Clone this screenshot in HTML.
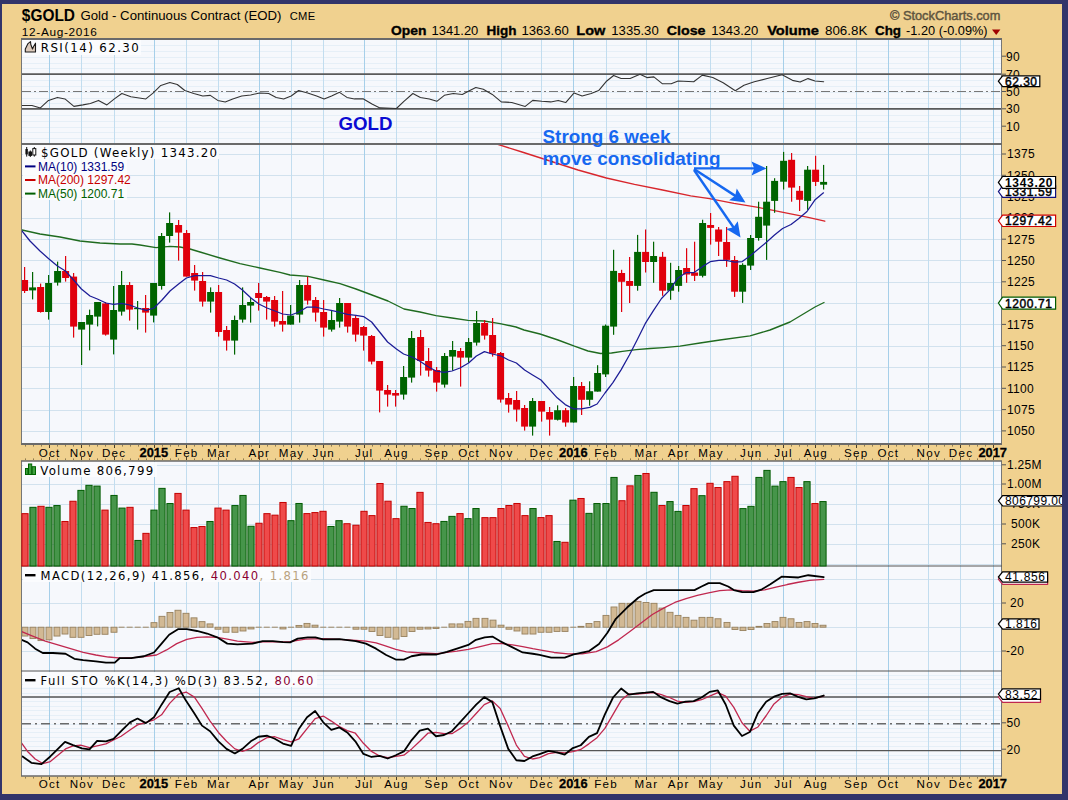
<!DOCTYPE html>
<html lang="en"><head><meta charset="utf-8"><title>$GOLD Weekly - StockCharts</title>
<style>html,body{margin:0;padding:0;background:#32346a;}svg{display:block;}</style></head>
<body>
<svg width="1068" height="800" viewBox="0 0 1068 800">
<defs><clipPath id="cp"><rect x="22" y="39" width="979" height="737"/></clipPath><clipPath id="tan"><rect x="2" y="4" width="1060" height="790"/></clipPath></defs>
<rect x="0" y="0" width="1068" height="800" fill="#32346a" />
<rect x="2" y="4" width="1060" height="790" fill="#f0d18f" />
<rect x="22" y="39" width="979" height="105" fill="#f6f8fc" />
<line x1="22" y1="45.5" x2="1001" y2="45.5" stroke="#e6eff7" stroke-width="1" />
<line x1="22" y1="51.5" x2="1001" y2="51.5" stroke="#e6eff7" stroke-width="1" />
<line x1="22" y1="57.5" x2="1001" y2="57.5" stroke="#e6eff7" stroke-width="1" />
<line x1="22" y1="63.5" x2="1001" y2="63.5" stroke="#e6eff7" stroke-width="1" />
<line x1="22" y1="68.5" x2="1001" y2="68.5" stroke="#e6eff7" stroke-width="1" />
<line x1="22" y1="74.5" x2="1001" y2="74.5" stroke="#e6eff7" stroke-width="1" />
<line x1="22" y1="80.5" x2="1001" y2="80.5" stroke="#e6eff7" stroke-width="1" />
<line x1="22" y1="86.5" x2="1001" y2="86.5" stroke="#e6eff7" stroke-width="1" />
<line x1="22" y1="92.5" x2="1001" y2="92.5" stroke="#e6eff7" stroke-width="1" />
<line x1="22" y1="98.5" x2="1001" y2="98.5" stroke="#e6eff7" stroke-width="1" />
<line x1="22" y1="103.5" x2="1001" y2="103.5" stroke="#e6eff7" stroke-width="1" />
<line x1="22" y1="109.5" x2="1001" y2="109.5" stroke="#e6eff7" stroke-width="1" />
<line x1="22" y1="115.5" x2="1001" y2="115.5" stroke="#e6eff7" stroke-width="1" />
<line x1="22" y1="121.5" x2="1001" y2="121.5" stroke="#e6eff7" stroke-width="1" />
<line x1="22" y1="127.5" x2="1001" y2="127.5" stroke="#e6eff7" stroke-width="1" />
<line x1="22" y1="132.5" x2="1001" y2="132.5" stroke="#e6eff7" stroke-width="1" />
<line x1="22" y1="138.5" x2="1001" y2="138.5" stroke="#e6eff7" stroke-width="1" />
<line x1="49.5" y1="39" x2="49.5" y2="144" stroke="#a6cfe9" stroke-width="1" />
<line x1="81.5" y1="39" x2="81.5" y2="144" stroke="#c2ddef" stroke-width="1" />
<line x1="114.5" y1="39" x2="114.5" y2="144" stroke="#c2ddef" stroke-width="1" />
<line x1="154.5" y1="39" x2="154.5" y2="144" stroke="#a6cfe9" stroke-width="1" />
<line x1="186.5" y1="39" x2="186.5" y2="144" stroke="#c2ddef" stroke-width="1" />
<line x1="218.5" y1="39" x2="218.5" y2="144" stroke="#c2ddef" stroke-width="1" />
<line x1="259.5" y1="39" x2="259.5" y2="144" stroke="#a6cfe9" stroke-width="1" />
<line x1="291.5" y1="39" x2="291.5" y2="144" stroke="#c2ddef" stroke-width="1" />
<line x1="323.5" y1="39" x2="323.5" y2="144" stroke="#c2ddef" stroke-width="1" />
<line x1="364.5" y1="39" x2="364.5" y2="144" stroke="#a6cfe9" stroke-width="1" />
<line x1="396.5" y1="39" x2="396.5" y2="144" stroke="#c2ddef" stroke-width="1" />
<line x1="436.5" y1="39" x2="436.5" y2="144" stroke="#c2ddef" stroke-width="1" />
<line x1="468.5" y1="39" x2="468.5" y2="144" stroke="#a6cfe9" stroke-width="1" />
<line x1="501.5" y1="39" x2="501.5" y2="144" stroke="#c2ddef" stroke-width="1" />
<line x1="541.5" y1="39" x2="541.5" y2="144" stroke="#c2ddef" stroke-width="1" />
<line x1="573.5" y1="39" x2="573.5" y2="144" stroke="#a6cfe9" stroke-width="1" />
<line x1="606.5" y1="39" x2="606.5" y2="144" stroke="#c2ddef" stroke-width="1" />
<line x1="646.5" y1="39" x2="646.5" y2="144" stroke="#c2ddef" stroke-width="1" />
<line x1="678.5" y1="39" x2="678.5" y2="144" stroke="#a6cfe9" stroke-width="1" />
<line x1="710.5" y1="39" x2="710.5" y2="144" stroke="#c2ddef" stroke-width="1" />
<line x1="751.5" y1="39" x2="751.5" y2="144" stroke="#c2ddef" stroke-width="1" />
<line x1="783.5" y1="39" x2="783.5" y2="144" stroke="#a6cfe9" stroke-width="1" />
<line x1="815.5" y1="39" x2="815.5" y2="144" stroke="#c2ddef" stroke-width="1" />
<line x1="856.5" y1="39" x2="856.5" y2="144" stroke="#c2ddef" stroke-width="1" />
<line x1="888.5" y1="39" x2="888.5" y2="144" stroke="#a6cfe9" stroke-width="1" />
<line x1="928.5" y1="39" x2="928.5" y2="144" stroke="#c2ddef" stroke-width="1" />
<line x1="960.5" y1="39" x2="960.5" y2="144" stroke="#c2ddef" stroke-width="1" />
<line x1="993.5" y1="39" x2="993.5" y2="144" stroke="#a6cfe9" stroke-width="1" />
<rect x="22" y="144" width="979" height="300" fill="#f6f8fc" />
<line x1="22" y1="154.5" x2="1001" y2="154.5" stroke="#d2e2ee" stroke-width="1" />
<line x1="22" y1="175.5" x2="1001" y2="175.5" stroke="#d2e2ee" stroke-width="1" />
<line x1="22" y1="197.5" x2="1001" y2="197.5" stroke="#d2e2ee" stroke-width="1" />
<line x1="22" y1="218.5" x2="1001" y2="218.5" stroke="#d2e2ee" stroke-width="1" />
<line x1="22" y1="239.5" x2="1001" y2="239.5" stroke="#d2e2ee" stroke-width="1" />
<line x1="22" y1="260.5" x2="1001" y2="260.5" stroke="#d2e2ee" stroke-width="1" />
<line x1="22" y1="282.5" x2="1001" y2="282.5" stroke="#d2e2ee" stroke-width="1" />
<line x1="22" y1="303.5" x2="1001" y2="303.5" stroke="#d2e2ee" stroke-width="1" />
<line x1="22" y1="324.5" x2="1001" y2="324.5" stroke="#d2e2ee" stroke-width="1" />
<line x1="22" y1="346.5" x2="1001" y2="346.5" stroke="#d2e2ee" stroke-width="1" />
<line x1="22" y1="367.5" x2="1001" y2="367.5" stroke="#d2e2ee" stroke-width="1" />
<line x1="22" y1="388.5" x2="1001" y2="388.5" stroke="#d2e2ee" stroke-width="1" />
<line x1="22" y1="410.5" x2="1001" y2="410.5" stroke="#d2e2ee" stroke-width="1" />
<line x1="22" y1="431.5" x2="1001" y2="431.5" stroke="#d2e2ee" stroke-width="1" />
<line x1="49.5" y1="144" x2="49.5" y2="444" stroke="#a6cfe9" stroke-width="1" />
<line x1="81.5" y1="144" x2="81.5" y2="444" stroke="#c2ddef" stroke-width="1" />
<line x1="114.5" y1="144" x2="114.5" y2="444" stroke="#c2ddef" stroke-width="1" />
<line x1="154.5" y1="144" x2="154.5" y2="444" stroke="#a6cfe9" stroke-width="1" />
<line x1="186.5" y1="144" x2="186.5" y2="444" stroke="#c2ddef" stroke-width="1" />
<line x1="218.5" y1="144" x2="218.5" y2="444" stroke="#c2ddef" stroke-width="1" />
<line x1="259.5" y1="144" x2="259.5" y2="444" stroke="#a6cfe9" stroke-width="1" />
<line x1="291.5" y1="144" x2="291.5" y2="444" stroke="#c2ddef" stroke-width="1" />
<line x1="323.5" y1="144" x2="323.5" y2="444" stroke="#c2ddef" stroke-width="1" />
<line x1="364.5" y1="144" x2="364.5" y2="444" stroke="#a6cfe9" stroke-width="1" />
<line x1="396.5" y1="144" x2="396.5" y2="444" stroke="#c2ddef" stroke-width="1" />
<line x1="436.5" y1="144" x2="436.5" y2="444" stroke="#c2ddef" stroke-width="1" />
<line x1="468.5" y1="144" x2="468.5" y2="444" stroke="#a6cfe9" stroke-width="1" />
<line x1="501.5" y1="144" x2="501.5" y2="444" stroke="#c2ddef" stroke-width="1" />
<line x1="541.5" y1="144" x2="541.5" y2="444" stroke="#c2ddef" stroke-width="1" />
<line x1="573.5" y1="144" x2="573.5" y2="444" stroke="#a6cfe9" stroke-width="1" />
<line x1="606.5" y1="144" x2="606.5" y2="444" stroke="#c2ddef" stroke-width="1" />
<line x1="646.5" y1="144" x2="646.5" y2="444" stroke="#c2ddef" stroke-width="1" />
<line x1="678.5" y1="144" x2="678.5" y2="444" stroke="#a6cfe9" stroke-width="1" />
<line x1="710.5" y1="144" x2="710.5" y2="444" stroke="#c2ddef" stroke-width="1" />
<line x1="751.5" y1="144" x2="751.5" y2="444" stroke="#c2ddef" stroke-width="1" />
<line x1="783.5" y1="144" x2="783.5" y2="444" stroke="#a6cfe9" stroke-width="1" />
<line x1="815.5" y1="144" x2="815.5" y2="444" stroke="#c2ddef" stroke-width="1" />
<line x1="856.5" y1="144" x2="856.5" y2="444" stroke="#c2ddef" stroke-width="1" />
<line x1="888.5" y1="144" x2="888.5" y2="444" stroke="#a6cfe9" stroke-width="1" />
<line x1="928.5" y1="144" x2="928.5" y2="444" stroke="#c2ddef" stroke-width="1" />
<line x1="960.5" y1="144" x2="960.5" y2="444" stroke="#c2ddef" stroke-width="1" />
<line x1="993.5" y1="144" x2="993.5" y2="444" stroke="#a6cfe9" stroke-width="1" />
<rect x="22" y="461" width="979" height="105" fill="#f6f8fc" />
<line x1="22" y1="564.5" x2="1001" y2="564.5" stroke="#d2e2ee" stroke-width="1" />
<line x1="22" y1="544.5" x2="1001" y2="544.5" stroke="#d2e2ee" stroke-width="1" />
<line x1="22" y1="524.5" x2="1001" y2="524.5" stroke="#d2e2ee" stroke-width="1" />
<line x1="22" y1="504.5" x2="1001" y2="504.5" stroke="#d2e2ee" stroke-width="1" />
<line x1="22" y1="484.5" x2="1001" y2="484.5" stroke="#d2e2ee" stroke-width="1" />
<line x1="22" y1="465.5" x2="1001" y2="465.5" stroke="#d2e2ee" stroke-width="1" />
<line x1="49.5" y1="461" x2="49.5" y2="566" stroke="#a6cfe9" stroke-width="1" />
<line x1="81.5" y1="461" x2="81.5" y2="566" stroke="#c2ddef" stroke-width="1" />
<line x1="114.5" y1="461" x2="114.5" y2="566" stroke="#c2ddef" stroke-width="1" />
<line x1="154.5" y1="461" x2="154.5" y2="566" stroke="#a6cfe9" stroke-width="1" />
<line x1="186.5" y1="461" x2="186.5" y2="566" stroke="#c2ddef" stroke-width="1" />
<line x1="218.5" y1="461" x2="218.5" y2="566" stroke="#c2ddef" stroke-width="1" />
<line x1="259.5" y1="461" x2="259.5" y2="566" stroke="#a6cfe9" stroke-width="1" />
<line x1="291.5" y1="461" x2="291.5" y2="566" stroke="#c2ddef" stroke-width="1" />
<line x1="323.5" y1="461" x2="323.5" y2="566" stroke="#c2ddef" stroke-width="1" />
<line x1="364.5" y1="461" x2="364.5" y2="566" stroke="#a6cfe9" stroke-width="1" />
<line x1="396.5" y1="461" x2="396.5" y2="566" stroke="#c2ddef" stroke-width="1" />
<line x1="436.5" y1="461" x2="436.5" y2="566" stroke="#c2ddef" stroke-width="1" />
<line x1="468.5" y1="461" x2="468.5" y2="566" stroke="#a6cfe9" stroke-width="1" />
<line x1="501.5" y1="461" x2="501.5" y2="566" stroke="#c2ddef" stroke-width="1" />
<line x1="541.5" y1="461" x2="541.5" y2="566" stroke="#c2ddef" stroke-width="1" />
<line x1="573.5" y1="461" x2="573.5" y2="566" stroke="#a6cfe9" stroke-width="1" />
<line x1="606.5" y1="461" x2="606.5" y2="566" stroke="#c2ddef" stroke-width="1" />
<line x1="646.5" y1="461" x2="646.5" y2="566" stroke="#c2ddef" stroke-width="1" />
<line x1="678.5" y1="461" x2="678.5" y2="566" stroke="#a6cfe9" stroke-width="1" />
<line x1="710.5" y1="461" x2="710.5" y2="566" stroke="#c2ddef" stroke-width="1" />
<line x1="751.5" y1="461" x2="751.5" y2="566" stroke="#c2ddef" stroke-width="1" />
<line x1="783.5" y1="461" x2="783.5" y2="566" stroke="#a6cfe9" stroke-width="1" />
<line x1="815.5" y1="461" x2="815.5" y2="566" stroke="#c2ddef" stroke-width="1" />
<line x1="856.5" y1="461" x2="856.5" y2="566" stroke="#c2ddef" stroke-width="1" />
<line x1="888.5" y1="461" x2="888.5" y2="566" stroke="#a6cfe9" stroke-width="1" />
<line x1="928.5" y1="461" x2="928.5" y2="566" stroke="#c2ddef" stroke-width="1" />
<line x1="960.5" y1="461" x2="960.5" y2="566" stroke="#c2ddef" stroke-width="1" />
<line x1="993.5" y1="461" x2="993.5" y2="566" stroke="#a6cfe9" stroke-width="1" />
<rect x="22" y="566" width="979" height="105" fill="#f6f8fc" />
<line x1="22" y1="579.5" x2="1001" y2="579.5" stroke="#d2e2ee" stroke-width="1" />
<line x1="22" y1="603.5" x2="1001" y2="603.5" stroke="#d2e2ee" stroke-width="1" />
<line x1="22" y1="627.5" x2="1001" y2="627.5" stroke="#d2e2ee" stroke-width="1" />
<line x1="22" y1="651.5" x2="1001" y2="651.5" stroke="#d2e2ee" stroke-width="1" />
<line x1="49.5" y1="566" x2="49.5" y2="671" stroke="#a6cfe9" stroke-width="1" />
<line x1="81.5" y1="566" x2="81.5" y2="671" stroke="#c2ddef" stroke-width="1" />
<line x1="114.5" y1="566" x2="114.5" y2="671" stroke="#c2ddef" stroke-width="1" />
<line x1="154.5" y1="566" x2="154.5" y2="671" stroke="#a6cfe9" stroke-width="1" />
<line x1="186.5" y1="566" x2="186.5" y2="671" stroke="#c2ddef" stroke-width="1" />
<line x1="218.5" y1="566" x2="218.5" y2="671" stroke="#c2ddef" stroke-width="1" />
<line x1="259.5" y1="566" x2="259.5" y2="671" stroke="#a6cfe9" stroke-width="1" />
<line x1="291.5" y1="566" x2="291.5" y2="671" stroke="#c2ddef" stroke-width="1" />
<line x1="323.5" y1="566" x2="323.5" y2="671" stroke="#c2ddef" stroke-width="1" />
<line x1="364.5" y1="566" x2="364.5" y2="671" stroke="#a6cfe9" stroke-width="1" />
<line x1="396.5" y1="566" x2="396.5" y2="671" stroke="#c2ddef" stroke-width="1" />
<line x1="436.5" y1="566" x2="436.5" y2="671" stroke="#c2ddef" stroke-width="1" />
<line x1="468.5" y1="566" x2="468.5" y2="671" stroke="#a6cfe9" stroke-width="1" />
<line x1="501.5" y1="566" x2="501.5" y2="671" stroke="#c2ddef" stroke-width="1" />
<line x1="541.5" y1="566" x2="541.5" y2="671" stroke="#c2ddef" stroke-width="1" />
<line x1="573.5" y1="566" x2="573.5" y2="671" stroke="#a6cfe9" stroke-width="1" />
<line x1="606.5" y1="566" x2="606.5" y2="671" stroke="#c2ddef" stroke-width="1" />
<line x1="646.5" y1="566" x2="646.5" y2="671" stroke="#c2ddef" stroke-width="1" />
<line x1="678.5" y1="566" x2="678.5" y2="671" stroke="#a6cfe9" stroke-width="1" />
<line x1="710.5" y1="566" x2="710.5" y2="671" stroke="#c2ddef" stroke-width="1" />
<line x1="751.5" y1="566" x2="751.5" y2="671" stroke="#c2ddef" stroke-width="1" />
<line x1="783.5" y1="566" x2="783.5" y2="671" stroke="#a6cfe9" stroke-width="1" />
<line x1="815.5" y1="566" x2="815.5" y2="671" stroke="#c2ddef" stroke-width="1" />
<line x1="856.5" y1="566" x2="856.5" y2="671" stroke="#c2ddef" stroke-width="1" />
<line x1="888.5" y1="566" x2="888.5" y2="671" stroke="#a6cfe9" stroke-width="1" />
<line x1="928.5" y1="566" x2="928.5" y2="671" stroke="#c2ddef" stroke-width="1" />
<line x1="960.5" y1="566" x2="960.5" y2="671" stroke="#c2ddef" stroke-width="1" />
<line x1="993.5" y1="566" x2="993.5" y2="671" stroke="#a6cfe9" stroke-width="1" />
<rect x="22" y="671" width="979" height="105" fill="#f6f8fc" />
<line x1="22" y1="768.5" x2="1001" y2="768.5" stroke="#e6eff7" stroke-width="1" />
<line x1="22" y1="763.5" x2="1001" y2="763.5" stroke="#e6eff7" stroke-width="1" />
<line x1="22" y1="759.5" x2="1001" y2="759.5" stroke="#e6eff7" stroke-width="1" />
<line x1="22" y1="755.5" x2="1001" y2="755.5" stroke="#e6eff7" stroke-width="1" />
<line x1="22" y1="750.5" x2="1001" y2="750.5" stroke="#e6eff7" stroke-width="1" />
<line x1="22" y1="746.5" x2="1001" y2="746.5" stroke="#e6eff7" stroke-width="1" />
<line x1="22" y1="741.5" x2="1001" y2="741.5" stroke="#e6eff7" stroke-width="1" />
<line x1="22" y1="737.5" x2="1001" y2="737.5" stroke="#e6eff7" stroke-width="1" />
<line x1="22" y1="732.5" x2="1001" y2="732.5" stroke="#e6eff7" stroke-width="1" />
<line x1="22" y1="728.5" x2="1001" y2="728.5" stroke="#e6eff7" stroke-width="1" />
<line x1="22" y1="724.5" x2="1001" y2="724.5" stroke="#e6eff7" stroke-width="1" />
<line x1="22" y1="719.5" x2="1001" y2="719.5" stroke="#e6eff7" stroke-width="1" />
<line x1="22" y1="715.5" x2="1001" y2="715.5" stroke="#e6eff7" stroke-width="1" />
<line x1="22" y1="710.5" x2="1001" y2="710.5" stroke="#e6eff7" stroke-width="1" />
<line x1="22" y1="706.5" x2="1001" y2="706.5" stroke="#e6eff7" stroke-width="1" />
<line x1="22" y1="701.5" x2="1001" y2="701.5" stroke="#e6eff7" stroke-width="1" />
<line x1="22" y1="697.5" x2="1001" y2="697.5" stroke="#e6eff7" stroke-width="1" />
<line x1="22" y1="693.5" x2="1001" y2="693.5" stroke="#e6eff7" stroke-width="1" />
<line x1="22" y1="688.5" x2="1001" y2="688.5" stroke="#e6eff7" stroke-width="1" />
<line x1="22" y1="684.5" x2="1001" y2="684.5" stroke="#e6eff7" stroke-width="1" />
<line x1="22" y1="679.5" x2="1001" y2="679.5" stroke="#e6eff7" stroke-width="1" />
<line x1="22" y1="675.5" x2="1001" y2="675.5" stroke="#e6eff7" stroke-width="1" />
<line x1="49.5" y1="671" x2="49.5" y2="776" stroke="#a6cfe9" stroke-width="1" />
<line x1="81.5" y1="671" x2="81.5" y2="776" stroke="#c2ddef" stroke-width="1" />
<line x1="114.5" y1="671" x2="114.5" y2="776" stroke="#c2ddef" stroke-width="1" />
<line x1="154.5" y1="671" x2="154.5" y2="776" stroke="#a6cfe9" stroke-width="1" />
<line x1="186.5" y1="671" x2="186.5" y2="776" stroke="#c2ddef" stroke-width="1" />
<line x1="218.5" y1="671" x2="218.5" y2="776" stroke="#c2ddef" stroke-width="1" />
<line x1="259.5" y1="671" x2="259.5" y2="776" stroke="#a6cfe9" stroke-width="1" />
<line x1="291.5" y1="671" x2="291.5" y2="776" stroke="#c2ddef" stroke-width="1" />
<line x1="323.5" y1="671" x2="323.5" y2="776" stroke="#c2ddef" stroke-width="1" />
<line x1="364.5" y1="671" x2="364.5" y2="776" stroke="#a6cfe9" stroke-width="1" />
<line x1="396.5" y1="671" x2="396.5" y2="776" stroke="#c2ddef" stroke-width="1" />
<line x1="436.5" y1="671" x2="436.5" y2="776" stroke="#c2ddef" stroke-width="1" />
<line x1="468.5" y1="671" x2="468.5" y2="776" stroke="#a6cfe9" stroke-width="1" />
<line x1="501.5" y1="671" x2="501.5" y2="776" stroke="#c2ddef" stroke-width="1" />
<line x1="541.5" y1="671" x2="541.5" y2="776" stroke="#c2ddef" stroke-width="1" />
<line x1="573.5" y1="671" x2="573.5" y2="776" stroke="#a6cfe9" stroke-width="1" />
<line x1="606.5" y1="671" x2="606.5" y2="776" stroke="#c2ddef" stroke-width="1" />
<line x1="646.5" y1="671" x2="646.5" y2="776" stroke="#c2ddef" stroke-width="1" />
<line x1="678.5" y1="671" x2="678.5" y2="776" stroke="#a6cfe9" stroke-width="1" />
<line x1="710.5" y1="671" x2="710.5" y2="776" stroke="#c2ddef" stroke-width="1" />
<line x1="751.5" y1="671" x2="751.5" y2="776" stroke="#c2ddef" stroke-width="1" />
<line x1="783.5" y1="671" x2="783.5" y2="776" stroke="#a6cfe9" stroke-width="1" />
<line x1="815.5" y1="671" x2="815.5" y2="776" stroke="#c2ddef" stroke-width="1" />
<line x1="856.5" y1="671" x2="856.5" y2="776" stroke="#c2ddef" stroke-width="1" />
<line x1="888.5" y1="671" x2="888.5" y2="776" stroke="#a6cfe9" stroke-width="1" />
<line x1="928.5" y1="671" x2="928.5" y2="776" stroke="#c2ddef" stroke-width="1" />
<line x1="960.5" y1="671" x2="960.5" y2="776" stroke="#c2ddef" stroke-width="1" />
<line x1="993.5" y1="671" x2="993.5" y2="776" stroke="#a6cfe9" stroke-width="1" />
<line x1="22" y1="74.2" x2="1001" y2="74.2" stroke="#5a5a5a" stroke-width="1.7" />
<line x1="22" y1="108.8" x2="1001" y2="108.8" stroke="#5a5a5a" stroke-width="1.7" />
<line x1="22" y1="91.5" x2="1001" y2="91.5" stroke="#777" stroke-width="1" stroke-dasharray="9,3,2,3"/>
<polyline clip-path="url(#cp)" fill="none" stroke="#333" stroke-width="1.1" stroke-linejoin="round" stroke-linecap="round"  points="20,105.51 31.99,105.51 40.37,107.91 48.46,100.42 57.45,97.42 64.94,98.92 73.93,106.41 82.92,104.91 90.41,103.42 98.5,100.42 106.89,104.91 114.38,98.92 121.87,93.53 130.86,96.82 145.84,98.92 153.33,92.93 160.82,85.44 169.81,82.44 177.3,84.54 184.79,90.53 193.78,93.53 202.77,95.93 210.26,95.33 217.75,100.42 225.24,101.92 232.73,98.92 241.72,95.93 250.71,95.03 259.7,92.93 268.69,93.53 276.18,97.42 283.67,98.92 291.16,95.93 298.65,90.53 307.64,92.93 316.63,95.93 324.12,98.92 331.61,95.93 332.12,95.78 339.48,92.33 346.97,97.42 354.46,98.92 363.45,98.92 372.43,104.31 379.93,107.91 396.4,108.51 403.9,101.32 412.88,93.53 420.37,97.42 429.36,98.92 436.85,101.32 444.34,95.33 453.33,93.53 462.32,94.43 469.81,90.53 475.81,87.54 483.3,89.33 492.28,94.43 501.27,101.92 511.76,102.52 525.24,106.41 532.73,100.42 541.72,101.32 550.71,101.92 558.2,100.42 565.69,102.52 574.08,92.93 582.17,95.93 591.16,93.53 598.65,90.53 606.14,81.54 613.63,75.55 621.12,78.55 630.11,78.55 640,74.35 646.93,77.58 653.86,76.89 662.52,83.82 671.19,83.82 678.12,81.05 693.71,81.74 702.37,75.15 712.77,77.58 723.16,82.78 735.29,90.75 743.95,85.2 754.35,81.74 768.21,78.27 782.07,74.81 792.46,80.35 800.08,82.08 808.05,78.62 814.98,81.05 823.65,81.74"/>
<polyline clip-path="url(#cp)" fill="none" stroke="#1f6b1f" stroke-width="1.35" stroke-linejoin="round" stroke-linecap="round"  points="22,230 40,234 60,237 80,241 100,243 120,244 132,244 140,245 156,247.6 170,246.4 180,247 190,249 200,252 220,258 240,263.6 260,268 280,272.4 290,275 308,276.4 324,280 340,283.6 356,289 372,295 388,301 404,309 420,312 436,315.6 452,318 468,320.4 484,321 500,323.6 516,327 524,330 540,334 558,340 574.4,346.2 588,351 600.5,353.5 611.5,353 622.5,351.3 636.3,349.6 650,348.5 663.8,347.6 680,346.2 700,343 720,340 750,335.9 770,330 790,322 805,313 815,307 824,302.5"/>
<polyline clip-path="url(#cp)" fill="none" stroke="#d8262c" stroke-width="1.35" stroke-linejoin="round" stroke-linecap="round"  points="495.4,143.7 522,152 550,161 578,170 606.4,178 634.5,184.4 662.6,190 690.7,195.9 709.5,198.7 733.9,203.4 758.2,207.4 774.5,210.7 790.7,213.9 807,217.2 824.8,221.2"/>
<rect x="24" y="267" width="1.2" height="26" fill="#e0000c" />
<rect x="21.1" y="280" width="7" height="11" fill="#e0000c" />
<rect x="32" y="272" width="1.2" height="27.4" fill="#006400" />
<rect x="29.1" y="287.4" width="7" height="3" fill="#006400" />
<rect x="40" y="283.6" width="1.2" height="29" fill="#e0000c" />
<rect x="37.1" y="287" width="7" height="25" fill="#e0000c" />
<rect x="48" y="275" width="1.2" height="44.6" fill="#006400" />
<rect x="45.1" y="283" width="7" height="29" fill="#006400" />
<rect x="57" y="261.6" width="1.2" height="24" fill="#006400" />
<rect x="54.1" y="271" width="7" height="11.6" fill="#006400" />
<rect x="65" y="256" width="1.2" height="25.6" fill="#e0000c" />
<rect x="62.1" y="271" width="7" height="7" fill="#e0000c" />
<rect x="73" y="273" width="1.2" height="64.6" fill="#e0000c" />
<rect x="70.1" y="276.6" width="7" height="50" fill="#e0000c" />
<rect x="81" y="322" width="1.2" height="43" fill="#006400" />
<rect x="78.1" y="322" width="7" height="7.6" fill="#006400" />
<rect x="89" y="309.6" width="1.2" height="40.8" fill="#006400" />
<rect x="86.1" y="315" width="7" height="9.6" fill="#006400" />
<rect x="97" y="302" width="1.2" height="24.4" fill="#006400" />
<rect x="94.1" y="302" width="7" height="14.6" fill="#006400" />
<rect x="105" y="302" width="1.2" height="33.6" fill="#e0000c" />
<rect x="102.1" y="303.4" width="7" height="31.2" fill="#e0000c" />
<rect x="113" y="286" width="1.2" height="68.4" fill="#006400" />
<rect x="110.1" y="310" width="7" height="29.6" fill="#006400" />
<rect x="121" y="271" width="1.2" height="44.6" fill="#006400" />
<rect x="118.1" y="285" width="7" height="26.6" fill="#006400" />
<rect x="129" y="282" width="1.2" height="38.6" fill="#e0000c" />
<rect x="126.1" y="285" width="7" height="24.6" fill="#e0000c" />
<rect x="137" y="301" width="1.2" height="28.6" fill="#006400" />
<rect x="134.1" y="308" width="7" height="1.2" fill="#006400" />
<rect x="145" y="295" width="1.2" height="37.6" fill="#e0000c" />
<rect x="142.1" y="308" width="7" height="4.6" fill="#e0000c" />
<rect x="153" y="283" width="1.2" height="39.4" fill="#006400" />
<rect x="150.1" y="283" width="7" height="32.6" fill="#006400" />
<rect x="161" y="233" width="1.2" height="56.6" fill="#006400" />
<rect x="158.1" y="236" width="7" height="50" fill="#006400" />
<rect x="169" y="212.4" width="1.2" height="30.2" fill="#006400" />
<rect x="166.1" y="223" width="7" height="13" fill="#006400" />
<rect x="178" y="220" width="1.2" height="40.6" fill="#e0000c" />
<rect x="175.1" y="225" width="7" height="7.6" fill="#e0000c" />
<rect x="186" y="230" width="1.2" height="46.6" fill="#e0000c" />
<rect x="183.1" y="233" width="7" height="43.6" fill="#e0000c" />
<rect x="194" y="265" width="1.2" height="25.6" fill="#e0000c" />
<rect x="191.1" y="273" width="7" height="7.6" fill="#e0000c" />
<rect x="202" y="272" width="1.2" height="34.6" fill="#e0000c" />
<rect x="199.1" y="281" width="7" height="20.6" fill="#e0000c" />
<rect x="210" y="287.4" width="1.2" height="25.2" fill="#006400" />
<rect x="207.1" y="292" width="7" height="9.6" fill="#006400" />
<rect x="218" y="285" width="1.2" height="51.6" fill="#e0000c" />
<rect x="215.1" y="292" width="7" height="40" fill="#e0000c" />
<rect x="226" y="326" width="1.2" height="24.6" fill="#e0000c" />
<rect x="223.1" y="330" width="7" height="10.6" fill="#e0000c" />
<rect x="234" y="315.6" width="1.2" height="39" fill="#006400" />
<rect x="231.1" y="320" width="7" height="20.6" fill="#006400" />
<rect x="242" y="287.4" width="1.2" height="35.2" fill="#006400" />
<rect x="239.1" y="305" width="7" height="14.6" fill="#006400" />
<rect x="250" y="298" width="1.2" height="24.6" fill="#006400" />
<rect x="247.1" y="302" width="7" height="3.6" fill="#006400" />
<rect x="258" y="283" width="1.2" height="27.6" fill="#e0000c" />
<rect x="255.1" y="293" width="7" height="5" fill="#e0000c" />
<rect x="266" y="296" width="1.2" height="23.6" fill="#e0000c" />
<rect x="263.1" y="297" width="7" height="4.6" fill="#e0000c" />
<rect x="274" y="296" width="1.2" height="30.6" fill="#e0000c" />
<rect x="271.1" y="300" width="7" height="21.6" fill="#e0000c" />
<rect x="282" y="291" width="1.2" height="40.6" fill="#e0000c" />
<rect x="279.1" y="321" width="7" height="3.6" fill="#e0000c" />
<rect x="290" y="305" width="1.2" height="19.6" fill="#006400" />
<rect x="287.1" y="315.6" width="7" height="9" fill="#006400" />
<rect x="299" y="280" width="1.2" height="42.6" fill="#006400" />
<rect x="296.1" y="285" width="7" height="29.6" fill="#006400" />
<rect x="307" y="276.6" width="1.2" height="28" fill="#e0000c" />
<rect x="304.1" y="285" width="7" height="15.6" fill="#e0000c" />
<rect x="315" y="297" width="1.2" height="24.6" fill="#e0000c" />
<rect x="312.1" y="300" width="7" height="12.6" fill="#e0000c" />
<rect x="323" y="300" width="1.2" height="36.6" fill="#e0000c" />
<rect x="320.1" y="312" width="7" height="15.6" fill="#e0000c" />
<rect x="331" y="311" width="1.2" height="20.6" fill="#006400" />
<rect x="328.1" y="320" width="7" height="9.6" fill="#006400" />
<rect x="339" y="298" width="1.2" height="29.6" fill="#006400" />
<rect x="336.1" y="303" width="7" height="18.6" fill="#006400" />
<rect x="347" y="303" width="1.2" height="29.6" fill="#e0000c" />
<rect x="344.1" y="303" width="7" height="23.6" fill="#e0000c" />
<rect x="355" y="316" width="1.2" height="25.6" fill="#e0000c" />
<rect x="352.1" y="318" width="7" height="16.6" fill="#e0000c" />
<rect x="363" y="326" width="1.2" height="24.6" fill="#e0000c" />
<rect x="360.1" y="327" width="7" height="8.6" fill="#e0000c" />
<rect x="371" y="335" width="1.2" height="29.4" fill="#e0000c" />
<rect x="368.1" y="336" width="7" height="25.6" fill="#e0000c" />
<rect x="379" y="361" width="1.2" height="51.4" fill="#e0000c" />
<rect x="376.1" y="361" width="7" height="29.6" fill="#e0000c" />
<rect x="387" y="385" width="1.2" height="21.6" fill="#e0000c" />
<rect x="384.1" y="390" width="7" height="4.6" fill="#e0000c" />
<rect x="395" y="390" width="1.2" height="16.6" fill="#e0000c" />
<rect x="392.1" y="393" width="7" height="2.6" fill="#e0000c" />
<rect x="403" y="366" width="1.2" height="33.6" fill="#006400" />
<rect x="400.1" y="377" width="7" height="17.6" fill="#006400" />
<rect x="411" y="331" width="1.2" height="51.6" fill="#006400" />
<rect x="408.1" y="338" width="7" height="39.6" fill="#006400" />
<rect x="420" y="330" width="1.2" height="45.6" fill="#e0000c" />
<rect x="417.1" y="337" width="7" height="24" fill="#e0000c" />
<rect x="428" y="348" width="1.2" height="28.6" fill="#e0000c" />
<rect x="425.1" y="361" width="7" height="9.6" fill="#e0000c" />
<rect x="436" y="367" width="1.2" height="24.6" fill="#e0000c" />
<rect x="433.1" y="370" width="7" height="12.6" fill="#e0000c" />
<rect x="444" y="353" width="1.2" height="34.6" fill="#006400" />
<rect x="441.1" y="356" width="7" height="28.6" fill="#006400" />
<rect x="452" y="341" width="1.2" height="29.6" fill="#006400" />
<rect x="449.1" y="350" width="7" height="6.6" fill="#006400" />
<rect x="460" y="348" width="1.2" height="38.6" fill="#e0000c" />
<rect x="457.1" y="351" width="7" height="6.6" fill="#e0000c" />
<rect x="468" y="338" width="1.2" height="24.6" fill="#006400" />
<rect x="465.1" y="342" width="7" height="15.6" fill="#006400" />
<rect x="476" y="311" width="1.2" height="34.6" fill="#006400" />
<rect x="473.1" y="323" width="7" height="19.6" fill="#006400" />
<rect x="484" y="320" width="1.2" height="19.6" fill="#e0000c" />
<rect x="481.1" y="323" width="7" height="12.6" fill="#e0000c" />
<rect x="492" y="318" width="1.2" height="38.6" fill="#e0000c" />
<rect x="489.1" y="335" width="7" height="18.6" fill="#e0000c" />
<rect x="500" y="352" width="1.2" height="50.6" fill="#e0000c" />
<rect x="497.1" y="353" width="7" height="46.6" fill="#e0000c" />
<rect x="508" y="393" width="1.2" height="19.6" fill="#e0000c" />
<rect x="505.1" y="398" width="7" height="6.6" fill="#e0000c" />
<rect x="516" y="391" width="1.2" height="30.6" fill="#e0000c" />
<rect x="513.1" y="400" width="7" height="9.6" fill="#e0000c" />
<rect x="524" y="405" width="1.2" height="25.6" fill="#e0000c" />
<rect x="521.1" y="408" width="7" height="18.6" fill="#e0000c" />
<rect x="532" y="398" width="1.2" height="37.6" fill="#006400" />
<rect x="529.1" y="401" width="7" height="25.6" fill="#006400" />
<rect x="541" y="401" width="1.2" height="20.6" fill="#e0000c" />
<rect x="538.1" y="401" width="7" height="10.6" fill="#e0000c" />
<rect x="549" y="407" width="1.2" height="28.6" fill="#e0000c" />
<rect x="546.1" y="412" width="7" height="7.6" fill="#e0000c" />
<rect x="557" y="405.3" width="1.2" height="15.2" fill="#006400" />
<rect x="554.1" y="410.2" width="7" height="9.6" fill="#006400" />
<rect x="565" y="408" width="1.2" height="18.7" fill="#e0000c" />
<rect x="562.1" y="410.2" width="7" height="12.3" fill="#e0000c" />
<rect x="573" y="377" width="1.2" height="45.5" fill="#006400" />
<rect x="570.1" y="386" width="7" height="36.5" fill="#006400" />
<rect x="581" y="382" width="1.2" height="33" fill="#e0000c" />
<rect x="578.1" y="386" width="7" height="13.8" fill="#e0000c" />
<rect x="589" y="381.3" width="1.2" height="24.4" fill="#006400" />
<rect x="586.1" y="391.2" width="7" height="8.6" fill="#006400" />
<rect x="597" y="365.2" width="1.2" height="26.4" fill="#006400" />
<rect x="594.1" y="373" width="7" height="18.6" fill="#006400" />
<rect x="605" y="324.5" width="1.2" height="52.5" fill="#006400" />
<rect x="602.1" y="325.7" width="7" height="48.7" fill="#006400" />
<rect x="613" y="249.8" width="1.2" height="85" fill="#006400" />
<rect x="610.1" y="270.9" width="7" height="55.7" fill="#006400" />
<rect x="621" y="269.8" width="1.2" height="42.2" fill="#e0000c" />
<rect x="618.1" y="273" width="7" height="8.8" fill="#e0000c" />
<rect x="629" y="257" width="1.2" height="46" fill="#e0000c" />
<rect x="626.1" y="281" width="7" height="4.9" fill="#e0000c" />
<rect x="637" y="234.9" width="1.2" height="55.8" fill="#006400" />
<rect x="634.1" y="251.9" width="7" height="34" fill="#006400" />
<rect x="645" y="229.5" width="1.2" height="43" fill="#e0000c" />
<rect x="642.1" y="251.9" width="7" height="10.1" fill="#e0000c" />
<rect x="653" y="241.7" width="1.2" height="41.1" fill="#006400" />
<rect x="650.1" y="256" width="7" height="6" fill="#006400" />
<rect x="662" y="251.9" width="1.2" height="43.9" fill="#e0000c" />
<rect x="659.1" y="256.8" width="7" height="33.9" fill="#e0000c" />
<rect x="670" y="262.8" width="1.2" height="37" fill="#006400" />
<rect x="667.1" y="283" width="7" height="7.7" fill="#006400" />
<rect x="678" y="266" width="1.2" height="25.7" fill="#006400" />
<rect x="675.1" y="270" width="7" height="15.9" fill="#006400" />
<rect x="686" y="248.2" width="1.2" height="34.6" fill="#e0000c" />
<rect x="683.1" y="268" width="7" height="6.5" fill="#e0000c" />
<rect x="694" y="241.7" width="1.2" height="39.3" fill="#e0000c" />
<rect x="691.1" y="272.5" width="7" height="3.3" fill="#e0000c" />
<rect x="702" y="219.7" width="1.2" height="57.7" fill="#006400" />
<rect x="699.1" y="223" width="7" height="52.8" fill="#006400" />
<rect x="710" y="213" width="1.2" height="31.6" fill="#e0000c" />
<rect x="707.1" y="225" width="7" height="2.9" fill="#e0000c" />
<rect x="718" y="227" width="1.2" height="29" fill="#e0000c" />
<rect x="715.1" y="229.5" width="7" height="12.2" fill="#e0000c" />
<rect x="726" y="227" width="1.2" height="39.9" fill="#e0000c" />
<rect x="723.1" y="242" width="7" height="17.9" fill="#e0000c" />
<rect x="734" y="256" width="1.2" height="40.9" fill="#e0000c" />
<rect x="731.1" y="260" width="7" height="31.7" fill="#e0000c" />
<rect x="742" y="263.3" width="1.2" height="39.6" fill="#006400" />
<rect x="739.1" y="264.9" width="7" height="26.8" fill="#006400" />
<rect x="750" y="235" width="1.2" height="35" fill="#006400" />
<rect x="747.1" y="238" width="7" height="27.6" fill="#006400" />
<rect x="758" y="201.7" width="1.2" height="39" fill="#006400" />
<rect x="755.1" y="216.8" width="7" height="21.2" fill="#006400" />
<rect x="766" y="166" width="1.2" height="93.9" fill="#006400" />
<rect x="763.1" y="201.7" width="7" height="23.9" fill="#006400" />
<rect x="774" y="178.2" width="1.2" height="34.6" fill="#006400" />
<rect x="771.1" y="180.9" width="7" height="20" fill="#006400" />
<rect x="783" y="151.9" width="1.2" height="37.6" fill="#006400" />
<rect x="780.1" y="160.8" width="7" height="20.9" fill="#006400" />
<rect x="791" y="153" width="1.2" height="48.7" fill="#e0000c" />
<rect x="788.1" y="159.8" width="7" height="27.8" fill="#e0000c" />
<rect x="799" y="186" width="1.2" height="25" fill="#e0000c" />
<rect x="796.1" y="190.8" width="7" height="9" fill="#e0000c" />
<rect x="807" y="166" width="1.2" height="43.8" fill="#006400" />
<rect x="804.1" y="169.7" width="7" height="31.2" fill="#006400" />
<rect x="815" y="155.8" width="1.2" height="30.2" fill="#e0000c" />
<rect x="812.1" y="169.7" width="7" height="12.2" fill="#e0000c" />
<rect x="823" y="164.9" width="1.2" height="24.6" fill="#006400" />
<rect x="820.1" y="181.9" width="7" height="2.8" fill="#006400" />
<polyline clip-path="url(#cp)" fill="none" stroke="#1c1c96" stroke-width="1.25" stroke-linejoin="round" stroke-linecap="round"  points="22,231 30,241 40,251 49,259 57.4,266 65.4,271 73.6,280 81.4,289 90,296 97.4,299 106,303 113.6,304.4 121.6,303.4 129.6,305 137.6,308 146.4,310.4 154,308 162,300 170,291 178.6,284 186.4,278 195,275.6 202.4,275.6 210.4,275.6 218.6,278 226.6,280 234.6,284 242.4,290 251,298 258.8,304 267,308 275,311 282.6,314 291,315 299,312 307.2,307 315.2,307 323.6,309 331.2,310.4 340,312.4 347.4,314.4 356,315.4 363.6,316.6 371.6,322 379.6,332 387.6,342 396.4,349 403.6,354 412,357 419.6,361 428.6,367 436,371 444,372.4 452,371 460,368 468.6,363 476.4,356 484.4,351.6 492.2,354 501,356 508.6,360 516.4,363 524.6,370 532.6,375 541,380 549,388.8 557.2,397.8 565.2,404.6 573.4,408.8 581.3,408.8 589.8,407.4 597.1,404 605,393 612.9,382.6 621.2,369.6 629.4,355 637.1,340 645.2,323.7 653.4,310.7 661.5,298.5 670.1,289.6 677.7,278.2 686.2,272.5 694,272.5 702.1,266.9 710.2,261.7 718.8,260.4 726.1,260.4 734.7,262.2 742.3,261.6 750.9,255.3 758.6,248.8 766.4,242.3 774.5,235 782.6,228.5 791,224.5 798.5,218.8 807,211.5 814.8,200.1 823.5,192.8"/>
<rect x="22" y="627.2" width="6" height="8.85" fill="#d2b994" stroke="#96805e" stroke-width="0.9"/>
<rect x="30" y="627.2" width="6" height="11.38" fill="#d2b994" stroke="#96805e" stroke-width="0.9"/>
<rect x="38" y="627.2" width="6" height="13.4" fill="#d2b994" stroke="#96805e" stroke-width="0.9"/>
<rect x="46" y="627.2" width="6" height="12.64" fill="#d2b994" stroke="#96805e" stroke-width="0.9"/>
<rect x="54" y="627.2" width="6" height="8.85" fill="#d2b994" stroke="#96805e" stroke-width="0.9"/>
<rect x="62" y="627.2" width="6" height="6.83" fill="#d2b994" stroke="#96805e" stroke-width="0.9"/>
<rect x="70" y="627.2" width="6" height="10.11" fill="#d2b994" stroke="#96805e" stroke-width="0.9"/>
<rect x="78" y="627.2" width="6" height="10.11" fill="#d2b994" stroke="#96805e" stroke-width="0.9"/>
<rect x="86" y="627.2" width="6" height="8.34" fill="#d2b994" stroke="#96805e" stroke-width="0.9"/>
<rect x="94" y="627.2" width="6" height="7.08" fill="#d2b994" stroke="#96805e" stroke-width="0.9"/>
<rect x="102" y="627.2" width="6" height="7.08" fill="#d2b994" stroke="#96805e" stroke-width="0.9"/>
<rect x="111" y="627.2" width="6" height="5.06" fill="#d2b994" stroke="#96805e" stroke-width="0.9"/>
<line x1="118.59" y1="627.2" x2="124.59" y2="627.2" stroke="#9c8462" stroke-width="1" />
<line x1="126.66" y1="627.2" x2="132.66" y2="627.2" stroke="#9c8462" stroke-width="1" />
<line x1="134.72" y1="627.2" x2="140.72" y2="627.2" stroke="#9c8462" stroke-width="1" />
<line x1="142.79" y1="627.2" x2="148.79" y2="627.2" stroke="#9c8462" stroke-width="1" />
<rect x="151" y="622.65" width="6" height="4.55" fill="#d2b994" stroke="#96805e" stroke-width="0.9"/>
<rect x="159" y="616.33" width="6" height="10.87" fill="#d2b994" stroke="#96805e" stroke-width="0.9"/>
<rect x="167" y="612.54" width="6" height="14.66" fill="#d2b994" stroke="#96805e" stroke-width="0.9"/>
<rect x="175" y="610.26" width="6" height="16.94" fill="#d2b994" stroke="#96805e" stroke-width="0.9"/>
<rect x="183" y="613.3" width="6" height="13.9" fill="#d2b994" stroke="#96805e" stroke-width="0.9"/>
<rect x="191" y="617.85" width="6" height="9.35" fill="#d2b994" stroke="#96805e" stroke-width="0.9"/>
<rect x="199" y="621.64" width="6" height="5.56" fill="#d2b994" stroke="#96805e" stroke-width="0.9"/>
<rect x="207" y="623.91" width="6" height="3.29" fill="#d2b994" stroke="#96805e" stroke-width="0.9"/>
<rect x="215" y="627.2" width="6" height="2.02" fill="#d2b994" stroke="#96805e" stroke-width="0.9"/>
<rect x="223" y="627.2" width="6" height="5.06" fill="#d2b994" stroke="#96805e" stroke-width="0.9"/>
<rect x="232" y="627.2" width="6" height="5.06" fill="#d2b994" stroke="#96805e" stroke-width="0.9"/>
<rect x="240" y="627.2" width="6" height="3.79" fill="#d2b994" stroke="#96805e" stroke-width="0.9"/>
<rect x="248" y="627.2" width="6" height="1.77" fill="#d2b994" stroke="#96805e" stroke-width="0.9"/>
<line x1="255.71" y1="627.2" x2="261.71" y2="627.2" stroke="#9c8462" stroke-width="1" />
<line x1="263.78" y1="627.2" x2="269.78" y2="627.2" stroke="#9c8462" stroke-width="1" />
<line x1="271.85" y1="627.2" x2="277.85" y2="627.2" stroke="#9c8462" stroke-width="1" />
<rect x="280" y="627.2" width="6" height="1.77" fill="#d2b994" stroke="#96805e" stroke-width="0.9"/>
<line x1="287.98" y1="627.2" x2="293.98" y2="627.2" stroke="#9c8462" stroke-width="1" />
<rect x="296" y="625.43" width="6" height="1.77" fill="#d2b994" stroke="#96805e" stroke-width="0.9"/>
<rect x="304" y="623.41" width="6" height="3.79" fill="#d2b994" stroke="#96805e" stroke-width="0.9"/>
<rect x="312" y="625.18" width="6" height="2.02" fill="#d2b994" stroke="#96805e" stroke-width="0.9"/>
<line x1="320.24" y1="627.2" x2="326.24" y2="627.2" stroke="#9c8462" stroke-width="1" />
<line x1="328.31" y1="627.2" x2="334.31" y2="627.2" stroke="#9c8462" stroke-width="1" />
<line x1="336.37" y1="627.2" x2="342.37" y2="627.2" stroke="#9c8462" stroke-width="1" />
<line x1="344.44" y1="627.2" x2="350.44" y2="627.2" stroke="#9c8462" stroke-width="1" />
<rect x="353" y="627.2" width="6" height="2.02" fill="#d2b994" stroke="#96805e" stroke-width="0.9"/>
<rect x="361" y="627.2" width="6" height="2.02" fill="#d2b994" stroke="#96805e" stroke-width="0.9"/>
<rect x="369" y="627.2" width="6" height="4.3" fill="#d2b994" stroke="#96805e" stroke-width="0.9"/>
<rect x="377" y="627.2" width="6" height="8.34" fill="#d2b994" stroke="#96805e" stroke-width="0.9"/>
<rect x="385" y="627.2" width="6" height="10.11" fill="#d2b994" stroke="#96805e" stroke-width="0.9"/>
<rect x="393" y="627.2" width="6" height="11.88" fill="#d2b994" stroke="#96805e" stroke-width="0.9"/>
<rect x="401" y="627.2" width="6" height="9.35" fill="#d2b994" stroke="#96805e" stroke-width="0.9"/>
<rect x="409" y="627.2" width="6" height="4.3" fill="#d2b994" stroke="#96805e" stroke-width="0.9"/>
<rect x="417" y="627.2" width="6" height="2.02" fill="#d2b994" stroke="#96805e" stroke-width="0.9"/>
<rect x="425" y="627.2" width="6" height="1.77" fill="#d2b994" stroke="#96805e" stroke-width="0.9"/>
<rect x="433" y="627.2" width="6" height="1.26" fill="#d2b994" stroke="#96805e" stroke-width="0.9"/>
<line x1="441.23" y1="627.2" x2="447.23" y2="627.2" stroke="#9c8462" stroke-width="1" />
<rect x="449" y="623.91" width="6" height="3.29" fill="#d2b994" stroke="#96805e" stroke-width="0.9"/>
<rect x="457" y="623.91" width="6" height="3.29" fill="#d2b994" stroke="#96805e" stroke-width="0.9"/>
<rect x="465" y="621.39" width="6" height="5.81" fill="#d2b994" stroke="#96805e" stroke-width="0.9"/>
<rect x="473" y="618.35" width="6" height="8.85" fill="#d2b994" stroke="#96805e" stroke-width="0.9"/>
<rect x="482" y="618.35" width="6" height="8.85" fill="#d2b994" stroke="#96805e" stroke-width="0.9"/>
<rect x="490" y="620.12" width="6" height="7.08" fill="#d2b994" stroke="#96805e" stroke-width="0.9"/>
<rect x="498" y="625.18" width="6" height="2.02" fill="#d2b994" stroke="#96805e" stroke-width="0.9"/>
<rect x="506" y="627.2" width="6" height="2.02" fill="#d2b994" stroke="#96805e" stroke-width="0.9"/>
<rect x="514" y="627.2" width="6" height="3.79" fill="#d2b994" stroke="#96805e" stroke-width="0.9"/>
<rect x="522" y="627.2" width="6" height="6.83" fill="#d2b994" stroke="#96805e" stroke-width="0.9"/>
<rect x="530" y="627.2" width="6" height="6.83" fill="#d2b994" stroke="#96805e" stroke-width="0.9"/>
<rect x="538" y="627.2" width="6" height="5.06" fill="#d2b994" stroke="#96805e" stroke-width="0.9"/>
<rect x="546" y="627.2" width="6" height="5.06" fill="#d2b994" stroke="#96805e" stroke-width="0.9"/>
<rect x="554" y="627.2" width="6" height="4.21" fill="#d2b994" stroke="#96805e" stroke-width="0.9"/>
<rect x="562" y="627.2" width="6" height="4.21" fill="#d2b994" stroke="#96805e" stroke-width="0.9"/>
<line x1="570.29" y1="627.2" x2="576.29" y2="627.2" stroke="#9c8462" stroke-width="1" />
<rect x="578" y="626.36" width="6" height="0.84" fill="#d2b994" stroke="#96805e" stroke-width="0.9"/>
<rect x="586" y="623.55" width="6" height="3.65" fill="#d2b994" stroke="#96805e" stroke-width="0.9"/>
<rect x="594" y="621.58" width="6" height="5.62" fill="#d2b994" stroke="#96805e" stroke-width="0.9"/>
<rect x="603" y="615.4" width="6" height="11.8" fill="#d2b994" stroke="#96805e" stroke-width="0.9"/>
<rect x="611" y="606.98" width="6" height="20.22" fill="#d2b994" stroke="#96805e" stroke-width="0.9"/>
<rect x="619" y="603.32" width="6" height="23.88" fill="#d2b994" stroke="#96805e" stroke-width="0.9"/>
<rect x="627" y="603.32" width="6" height="23.88" fill="#d2b994" stroke="#96805e" stroke-width="0.9"/>
<rect x="635" y="601.36" width="6" height="25.84" fill="#d2b994" stroke="#96805e" stroke-width="0.9"/>
<rect x="643" y="602.48" width="6" height="24.72" fill="#d2b994" stroke="#96805e" stroke-width="0.9"/>
<rect x="651" y="603.32" width="6" height="23.88" fill="#d2b994" stroke="#96805e" stroke-width="0.9"/>
<rect x="659" y="608.1" width="6" height="19.1" fill="#d2b994" stroke="#96805e" stroke-width="0.9"/>
<rect x="667" y="612.31" width="6" height="14.89" fill="#d2b994" stroke="#96805e" stroke-width="0.9"/>
<rect x="675" y="615.4" width="6" height="11.8" fill="#d2b994" stroke="#96805e" stroke-width="0.9"/>
<rect x="683" y="617.37" width="6" height="9.83" fill="#d2b994" stroke="#96805e" stroke-width="0.9"/>
<rect x="691" y="620.18" width="6" height="7.02" fill="#d2b994" stroke="#96805e" stroke-width="0.9"/>
<rect x="699" y="617.37" width="6" height="9.83" fill="#d2b994" stroke="#96805e" stroke-width="0.9"/>
<rect x="707" y="617.37" width="6" height="9.83" fill="#d2b994" stroke="#96805e" stroke-width="0.9"/>
<rect x="715" y="618.77" width="6" height="8.43" fill="#d2b994" stroke="#96805e" stroke-width="0.9"/>
<rect x="724" y="622.42" width="6" height="4.78" fill="#d2b994" stroke="#96805e" stroke-width="0.9"/>
<rect x="732" y="627.2" width="6" height="2.25" fill="#d2b994" stroke="#96805e" stroke-width="0.9"/>
<rect x="740" y="627.2" width="6" height="3.37" fill="#d2b994" stroke="#96805e" stroke-width="0.9"/>
<rect x="748" y="627.2" width="6" height="2.25" fill="#d2b994" stroke="#96805e" stroke-width="0.9"/>
<rect x="756" y="626.36" width="6" height="0.84" fill="#d2b994" stroke="#96805e" stroke-width="0.9"/>
<rect x="764" y="623.55" width="6" height="3.65" fill="#d2b994" stroke="#96805e" stroke-width="0.9"/>
<rect x="772" y="621.58" width="6" height="5.62" fill="#d2b994" stroke="#96805e" stroke-width="0.9"/>
<rect x="780" y="617.37" width="6" height="9.83" fill="#d2b994" stroke="#96805e" stroke-width="0.9"/>
<rect x="788" y="618.77" width="6" height="8.43" fill="#d2b994" stroke="#96805e" stroke-width="0.9"/>
<rect x="796" y="622.42" width="6" height="4.78" fill="#d2b994" stroke="#96805e" stroke-width="0.9"/>
<rect x="804" y="621.58" width="6" height="5.62" fill="#d2b994" stroke="#96805e" stroke-width="0.9"/>
<rect x="812" y="623.55" width="6" height="3.65" fill="#d2b994" stroke="#96805e" stroke-width="0.9"/>
<rect x="820" y="625.23" width="6" height="1.97" fill="#d2b994" stroke="#96805e" stroke-width="0.9"/>
<polyline clip-path="url(#cp)" fill="none" stroke="#c0284f" stroke-width="1.3" stroke-linejoin="round" stroke-linecap="round"  points="20,630.99 32.64,636.04 45.28,641.1 57.92,644.89 70.56,648.68 83.2,652.47 95.83,655 108.47,657.02 121.11,658.03 133.75,657.53 146.39,656.26 156.5,655 166.61,649.95 176.72,643.63 186.84,639.33 196.95,637.31 207.06,636.8 217.17,637.31 227.28,639.08 237.39,641.1 252.56,642.36 262.67,641.86 272.78,641.6 282.96,641.86 290.11,641.6 305.28,639.08 322.97,638.57 339.4,639.33 355.83,640.34 365.95,641.1 376.06,642.87 386.17,646.15 395.77,649.44 406.39,651.97 421.56,652.98 436.72,653.74 446.84,652.47 456.95,651.21 468.32,649.44 482.22,646.15 492.34,643.63 502.45,643.63 512.56,644.89 522.67,646.66 532.78,648.68 539.55,649.81 554.04,652.48 568.09,653.89 582.13,653.89 596.18,651.64 607.42,646.87 618.65,639.84 629.89,631.42 641.12,622.99 652.36,614.56 663.6,608.1 674.83,602.48 686.07,598.55 697.3,595.46 708.54,592.93 719.78,590.69 731.01,589.84 742.25,590.69 753.48,591.25 764.72,589.84 775.96,587.03 787.19,584.51 798.43,582.26 809.66,580.29 823.71,579.45"/>
<polyline clip-path="url(#cp)" fill="none" stroke="#000" stroke-width="1.8" stroke-linejoin="round" stroke-linecap="round"  points="20,639.08 27.58,642.36 35.17,648.68 42.75,652.98 52.86,652.98 65.5,653.74 74.35,658.79 83.2,660.06 95.83,661.32 105.95,662.58 114.79,662.58 119.85,658.03 131.22,658.03 143.86,656.26 153.97,652.47 161.56,643.63 169.14,634.78 177.99,629.22 186.84,629.22 196.95,630.99 207.06,633.51 217.17,637.31 227.28,643.63 237.39,644.38 252.56,643.63 262.67,641.1 272.78,641.1 282.96,642.11 290.11,642.36 297.69,638.57 307.81,637.31 315.39,637.31 322.97,639.33 339.4,639.08 355.83,641.1 365.95,643.63 376.06,648.68 386.17,655 395.77,659.55 403.86,659.55 411.45,656.26 421.56,654.5 436.72,654.5 446.84,651.97 456.95,648.68 468.32,644.89 475.9,639.83 484.75,637.31 492.34,636.55 499.92,641.1 510.03,646.15 522.67,652.47 532.78,653.74 539.55,654.98 551.24,657.54 564.72,657.54 573.71,654.45 589.16,651.08 598.99,644.06 607.42,632.82 615.84,618.78 627.08,607.54 638.31,597.71 645.34,593.49 653.76,590.12 694.49,590.12 701.52,586.47 708.54,583.1 719.78,583.1 728.2,586.47 733.82,590.12 742.25,592.09 753.48,592.09 761.91,589.28 770.34,584.22 781.57,576.64 798.43,577.48 808.26,575.24 823.71,577.2"/>
<line x1="22" y1="697" x2="1001" y2="697" stroke="#555" stroke-width="1.4" />
<line x1="22" y1="750.6" x2="1001" y2="750.6" stroke="#555" stroke-width="1.4" />
<line x1="22" y1="723.8" x2="1001" y2="723.8" stroke="#6a6a6a" stroke-width="1.5" stroke-dasharray="9,4,2,4"/>
<polyline clip-path="url(#cp)" fill="none" stroke="#c0284f" stroke-width="1.3" stroke-linejoin="round" stroke-linecap="round"  points="21.26,742.57 27.58,751.42 35.17,759 42.75,763.55 50.33,761.53 57.92,755.21 65.5,748.89 73.08,745.86 80.67,745.1 89.51,747.63 97.1,745.86 105.95,743.83 113.53,740.04 121.11,736.25 129.96,729.93 137.54,724.88 145.88,722.35 153.97,719.82 161.56,714.76 169.65,703.39 178.75,694.04 186.08,692.01 194.42,697.07 202,708.44 210.09,721.08 218.43,732.46 226.52,741.31 234.86,748.89 242.45,751.42 250.79,748.38 258.37,742.57 267.22,737.51 274.8,736.76 282.96,739.66 291.12,741.81 298.96,738.78 307.05,728.67 315.14,718.56 323.23,716.03 331.31,721.08 339.4,726.65 347.24,730.69 355.33,733.22 363.42,743.33 371.51,751.42 379.6,755.97 387.68,757.74 395.77,756.47 403.86,755.21 411.7,748.89 419.79,741.31 427.88,733.22 435.97,732.46 444.05,733.72 451.89,733.72 459.98,728.67 468.07,722.35 476.16,713.5 484.25,704.65 492.34,700.86 500.17,708.44 508.26,726.14 516.35,745.1 524.44,756.47 532.53,759 539.55,757.66 548.43,753.67 556.85,752.27 564.72,752.83 572.87,751.71 580.73,749.46 588.88,743.84 597.02,737.66 604.89,728.39 613.03,714.35 621.18,700.3 629.04,693.84 637.19,694.12 645.34,693.28 653.2,692.72 661.35,694.69 669.49,697.49 677.36,701.15 685.51,702.27 693.65,701.71 701.52,699.74 709.66,696.09 717.81,692.72 725.67,696.09 733.82,707.33 741.97,722.78 749.83,731.2 757.98,726.99 766.12,715.75 773.99,703.96 782.13,696.93 790,694.12 798.15,694.69 806.29,696.65 814.16,698.34 823.71,696.09"/>
<polyline clip-path="url(#cp)" fill="none" stroke="#000" stroke-width="1.8" stroke-linejoin="round" stroke-linecap="round"  points="22.53,756.47 31.38,762.79 41.49,764.06 50.33,756.47 57.92,748.89 64.99,741.81 73.08,745.1 81.93,748.38 89.51,749.4 97.1,740.8 105.95,741.31 113.53,738.78 121.11,731.2 129.96,722.35 137.54,718.56 145.88,723.11 153.97,717.29 161.56,704.65 169.65,692.01 178.75,688.22 186.08,700.86 194.42,713.5 202,725.63 210.09,731.2 218.43,741.31 226.52,748.89 234.86,753.44 242.45,748.89 250.79,741.31 258.37,736.76 267.22,735.75 274.8,738.78 282.96,743.58 291.12,745.86 298.96,728.67 307.05,717.29 315.14,710.97 323.23,722.35 331.31,729.93 339.4,727.4 347.24,732.46 355.33,741.31 363.42,753.95 371.51,756.98 379.6,755.97 387.68,758.5 395.77,755.21 403.86,751.42 411.7,740.04 419.79,730.69 427.88,728.67 435.97,736.25 444.05,734.99 451.89,731.2 459.98,722.35 468.07,713.5 476.16,704.65 484.25,697.07 492.34,702.13 500.17,726.14 508.26,748.89 516.35,760.26 524.44,761.02 532.53,756.47 539.55,754.06 548.43,750.87 556.85,752.27 564.72,754.52 572.87,748.06 580.73,745.25 588.88,736.82 597.02,733.17 604.89,714.35 613.03,697.49 621.18,688.51 629.04,694.69 637.19,693.28 645.34,692.72 653.2,691.88 661.35,697.49 669.49,701.15 677.36,703.67 685.51,701.71 693.65,701.15 701.52,697.49 709.66,691.88 717.81,690.47 725.67,704.52 733.82,725.58 741.97,735.98 749.83,732.04 757.98,712.94 766.12,701.71 773.99,696.65 782.13,693.84 790,693.28 798.15,696.93 806.29,699.46 814.16,698.34 823.71,695.53"/>
<line x1="21.5" y1="39" x2="21.5" y2="144" stroke="#767676" stroke-width="1" />
<line x1="1001.5" y1="39" x2="1001.5" y2="144" stroke="#767676" stroke-width="1" />
<line x1="21.5" y1="144" x2="21.5" y2="444" stroke="#767676" stroke-width="1" />
<line x1="1001.5" y1="144" x2="1001.5" y2="444" stroke="#767676" stroke-width="1" />
<line x1="21.5" y1="461" x2="21.5" y2="566" stroke="#767676" stroke-width="1" />
<line x1="1001.5" y1="461" x2="1001.5" y2="566" stroke="#767676" stroke-width="1" />
<line x1="21.5" y1="566" x2="21.5" y2="671" stroke="#767676" stroke-width="1" />
<line x1="1001.5" y1="566" x2="1001.5" y2="671" stroke="#767676" stroke-width="1" />
<line x1="21.5" y1="671" x2="21.5" y2="776" stroke="#767676" stroke-width="1" />
<line x1="1001.5" y1="671" x2="1001.5" y2="776" stroke="#767676" stroke-width="1" />
<line x1="21" y1="39" x2="1002" y2="39" stroke="#6a6a6a" stroke-width="1.8" />
<line x1="21" y1="144" x2="1002" y2="144" stroke="#6a6a6a" stroke-width="1.8" />
<line x1="21" y1="444" x2="1002" y2="444" stroke="#6a6a6a" stroke-width="1.8" />
<line x1="21" y1="461" x2="1002" y2="461" stroke="#6a6a6a" stroke-width="1.4" />
<line x1="21" y1="566" x2="1002" y2="566" stroke="#555" stroke-width="1.1" />
<line x1="21" y1="671" x2="1002" y2="671" stroke="#555" stroke-width="1.1" />
<line x1="21" y1="776" x2="1002" y2="776" stroke="#6a6a6a" stroke-width="1.6" />
<rect x="21.9" y="513.65" width="6.2" height="52.35" fill="#ef4a4a" stroke="#c40000" stroke-width="1"/>
<rect x="29.9" y="507.33" width="6.2" height="58.67" fill="#46954a" stroke="#005a00" stroke-width="1"/>
<rect x="37.9" y="506.31" width="6.2" height="59.69" fill="#ef4a4a" stroke="#c40000" stroke-width="1"/>
<rect x="45.9" y="507.33" width="6.2" height="58.67" fill="#46954a" stroke="#005a00" stroke-width="1"/>
<rect x="53.9" y="505.56" width="6.2" height="60.44" fill="#46954a" stroke="#005a00" stroke-width="1"/>
<rect x="61.9" y="521.48" width="6.2" height="44.52" fill="#ef4a4a" stroke="#c40000" stroke-width="1"/>
<rect x="69.9" y="501.26" width="6.2" height="64.74" fill="#ef4a4a" stroke="#c40000" stroke-width="1"/>
<rect x="77.9" y="490.39" width="6.2" height="75.61" fill="#46954a" stroke="#005a00" stroke-width="1"/>
<rect x="85.9" y="485.33" width="6.2" height="80.67" fill="#46954a" stroke="#005a00" stroke-width="1"/>
<rect x="93.9" y="486.09" width="6.2" height="79.91" fill="#46954a" stroke="#005a00" stroke-width="1"/>
<rect x="101.9" y="510.11" width="6.2" height="55.89" fill="#ef4a4a" stroke="#c40000" stroke-width="1"/>
<rect x="110.9" y="495.44" width="6.2" height="70.56" fill="#46954a" stroke="#005a00" stroke-width="1"/>
<rect x="118.9" y="508.08" width="6.2" height="57.92" fill="#46954a" stroke="#005a00" stroke-width="1"/>
<rect x="126.9" y="507.33" width="6.2" height="58.67" fill="#ef4a4a" stroke="#c40000" stroke-width="1"/>
<rect x="134.9" y="540.44" width="6.2" height="25.56" fill="#46954a" stroke="#005a00" stroke-width="1"/>
<rect x="142.9" y="533.36" width="6.2" height="32.64" fill="#ef4a4a" stroke="#c40000" stroke-width="1"/>
<rect x="150.9" y="510.11" width="6.2" height="55.89" fill="#46954a" stroke="#005a00" stroke-width="1"/>
<rect x="158.9" y="488.37" width="6.2" height="77.63" fill="#46954a" stroke="#005a00" stroke-width="1"/>
<rect x="166.9" y="503.53" width="6.2" height="62.47" fill="#46954a" stroke="#005a00" stroke-width="1"/>
<rect x="174.9" y="493.42" width="6.2" height="72.58" fill="#ef4a4a" stroke="#c40000" stroke-width="1"/>
<rect x="182.9" y="510.11" width="6.2" height="55.89" fill="#ef4a4a" stroke="#c40000" stroke-width="1"/>
<rect x="190.9" y="527.55" width="6.2" height="38.45" fill="#ef4a4a" stroke="#c40000" stroke-width="1"/>
<rect x="198.9" y="526.54" width="6.2" height="39.46" fill="#ef4a4a" stroke="#c40000" stroke-width="1"/>
<rect x="206.9" y="521.48" width="6.2" height="44.52" fill="#46954a" stroke="#005a00" stroke-width="1"/>
<rect x="214.9" y="508.08" width="6.2" height="57.92" fill="#ef4a4a" stroke="#c40000" stroke-width="1"/>
<rect x="222.9" y="510.11" width="6.2" height="55.89" fill="#ef4a4a" stroke="#c40000" stroke-width="1"/>
<rect x="231.9" y="505.56" width="6.2" height="60.44" fill="#46954a" stroke="#005a00" stroke-width="1"/>
<rect x="239.9" y="495.44" width="6.2" height="70.56" fill="#46954a" stroke="#005a00" stroke-width="1"/>
<rect x="247.9" y="526.28" width="6.2" height="39.72" fill="#46954a" stroke="#005a00" stroke-width="1"/>
<rect x="255.9" y="523.25" width="6.2" height="42.75" fill="#ef4a4a" stroke="#c40000" stroke-width="1"/>
<rect x="263.9" y="513.65" width="6.2" height="52.35" fill="#ef4a4a" stroke="#c40000" stroke-width="1"/>
<rect x="271.9" y="515.16" width="6.2" height="50.84" fill="#ef4a4a" stroke="#c40000" stroke-width="1"/>
<rect x="279.9" y="502.47" width="6.2" height="63.53" fill="#ef4a4a" stroke="#c40000" stroke-width="1"/>
<rect x="287.9" y="520.67" width="6.2" height="45.33" fill="#46954a" stroke="#005a00" stroke-width="1"/>
<rect x="295.9" y="503.48" width="6.2" height="62.52" fill="#46954a" stroke="#005a00" stroke-width="1"/>
<rect x="303.9" y="513.59" width="6.2" height="52.41" fill="#ef4a4a" stroke="#c40000" stroke-width="1"/>
<rect x="311.9" y="512.58" width="6.2" height="53.42" fill="#ef4a4a" stroke="#c40000" stroke-width="1"/>
<rect x="319.9" y="511.31" width="6.2" height="54.69" fill="#ef4a4a" stroke="#c40000" stroke-width="1"/>
<rect x="327.9" y="526.48" width="6.2" height="39.52" fill="#46954a" stroke="#005a00" stroke-width="1"/>
<rect x="335.9" y="520.67" width="6.2" height="45.33" fill="#46954a" stroke="#005a00" stroke-width="1"/>
<rect x="343.9" y="523.7" width="6.2" height="42.3" fill="#ef4a4a" stroke="#c40000" stroke-width="1"/>
<rect x="352.9" y="525.22" width="6.2" height="40.78" fill="#ef4a4a" stroke="#c40000" stroke-width="1"/>
<rect x="360.9" y="511.31" width="6.2" height="54.69" fill="#ef4a4a" stroke="#c40000" stroke-width="1"/>
<rect x="368.9" y="515.61" width="6.2" height="50.39" fill="#ef4a4a" stroke="#c40000" stroke-width="1"/>
<rect x="376.9" y="483.51" width="6.2" height="82.49" fill="#ef4a4a" stroke="#c40000" stroke-width="1"/>
<rect x="384.9" y="501.2" width="6.2" height="64.8" fill="#ef4a4a" stroke="#c40000" stroke-width="1"/>
<rect x="392.9" y="518.65" width="6.2" height="47.35" fill="#ef4a4a" stroke="#c40000" stroke-width="1"/>
<rect x="400.9" y="506.26" width="6.2" height="59.74" fill="#46954a" stroke="#005a00" stroke-width="1"/>
<rect x="408.9" y="508.53" width="6.2" height="57.47" fill="#46954a" stroke="#005a00" stroke-width="1"/>
<rect x="416.9" y="492.36" width="6.2" height="73.64" fill="#ef4a4a" stroke="#c40000" stroke-width="1"/>
<rect x="424.9" y="522.44" width="6.2" height="43.56" fill="#ef4a4a" stroke="#c40000" stroke-width="1"/>
<rect x="432.9" y="523.7" width="6.2" height="42.3" fill="#ef4a4a" stroke="#c40000" stroke-width="1"/>
<rect x="440.9" y="521.43" width="6.2" height="44.57" fill="#46954a" stroke="#005a00" stroke-width="1"/>
<rect x="448.9" y="516.37" width="6.2" height="49.63" fill="#46954a" stroke="#005a00" stroke-width="1"/>
<rect x="456.9" y="513.59" width="6.2" height="52.41" fill="#ef4a4a" stroke="#c40000" stroke-width="1"/>
<rect x="464.9" y="518.65" width="6.2" height="47.35" fill="#46954a" stroke="#005a00" stroke-width="1"/>
<rect x="472.9" y="508.53" width="6.2" height="57.47" fill="#46954a" stroke="#005a00" stroke-width="1"/>
<rect x="481.9" y="517.63" width="6.2" height="48.37" fill="#ef4a4a" stroke="#c40000" stroke-width="1"/>
<rect x="489.9" y="517.63" width="6.2" height="48.37" fill="#ef4a4a" stroke="#c40000" stroke-width="1"/>
<rect x="497.9" y="508.53" width="6.2" height="57.47" fill="#ef4a4a" stroke="#c40000" stroke-width="1"/>
<rect x="505.9" y="505.5" width="6.2" height="60.5" fill="#ef4a4a" stroke="#c40000" stroke-width="1"/>
<rect x="513.9" y="503.48" width="6.2" height="62.52" fill="#ef4a4a" stroke="#c40000" stroke-width="1"/>
<rect x="521.9" y="515.61" width="6.2" height="50.39" fill="#ef4a4a" stroke="#c40000" stroke-width="1"/>
<rect x="529.9" y="508.53" width="6.2" height="57.47" fill="#46954a" stroke="#005a00" stroke-width="1"/>
<rect x="537.9" y="517.58" width="6.2" height="48.42" fill="#ef4a4a" stroke="#c40000" stroke-width="1"/>
<rect x="545.9" y="515.62" width="6.2" height="50.38" fill="#ef4a4a" stroke="#c40000" stroke-width="1"/>
<rect x="553.9" y="541.46" width="6.2" height="24.54" fill="#46954a" stroke="#005a00" stroke-width="1"/>
<rect x="561.9" y="542.3" width="6.2" height="23.7" fill="#ef4a4a" stroke="#c40000" stroke-width="1"/>
<rect x="569.9" y="500.17" width="6.2" height="65.83" fill="#46954a" stroke="#005a00" stroke-width="1"/>
<rect x="577.9" y="498.48" width="6.2" height="67.52" fill="#ef4a4a" stroke="#c40000" stroke-width="1"/>
<rect x="585.9" y="513.37" width="6.2" height="52.63" fill="#46954a" stroke="#005a00" stroke-width="1"/>
<rect x="593.9" y="503.54" width="6.2" height="62.46" fill="#46954a" stroke="#005a00" stroke-width="1"/>
<rect x="602.9" y="503.54" width="6.2" height="62.46" fill="#46954a" stroke="#005a00" stroke-width="1"/>
<rect x="610.9" y="477.42" width="6.2" height="88.58" fill="#46954a" stroke="#005a00" stroke-width="1"/>
<rect x="618.9" y="500.73" width="6.2" height="65.27" fill="#ef4a4a" stroke="#c40000" stroke-width="1"/>
<rect x="626.9" y="485.84" width="6.2" height="80.16" fill="#ef4a4a" stroke="#c40000" stroke-width="1"/>
<rect x="634.9" y="475.45" width="6.2" height="90.55" fill="#46954a" stroke="#005a00" stroke-width="1"/>
<rect x="642.9" y="473.48" width="6.2" height="92.52" fill="#ef4a4a" stroke="#c40000" stroke-width="1"/>
<rect x="650.9" y="492.3" width="6.2" height="73.7" fill="#46954a" stroke="#005a00" stroke-width="1"/>
<rect x="658.9" y="505.51" width="6.2" height="60.49" fill="#ef4a4a" stroke="#c40000" stroke-width="1"/>
<rect x="666.9" y="501.57" width="6.2" height="64.43" fill="#46954a" stroke="#005a00" stroke-width="1"/>
<rect x="674.9" y="511.4" width="6.2" height="54.6" fill="#46954a" stroke="#005a00" stroke-width="1"/>
<rect x="682.9" y="505.51" width="6.2" height="60.49" fill="#ef4a4a" stroke="#c40000" stroke-width="1"/>
<rect x="690.9" y="488.65" width="6.2" height="77.35" fill="#ef4a4a" stroke="#c40000" stroke-width="1"/>
<rect x="698.9" y="495.67" width="6.2" height="70.33" fill="#46954a" stroke="#005a00" stroke-width="1"/>
<rect x="706.9" y="483.31" width="6.2" height="82.69" fill="#ef4a4a" stroke="#c40000" stroke-width="1"/>
<rect x="714.9" y="487.53" width="6.2" height="78.47" fill="#ef4a4a" stroke="#c40000" stroke-width="1"/>
<rect x="723.9" y="481.63" width="6.2" height="84.37" fill="#ef4a4a" stroke="#c40000" stroke-width="1"/>
<rect x="731.9" y="476.29" width="6.2" height="89.71" fill="#ef4a4a" stroke="#c40000" stroke-width="1"/>
<rect x="739.9" y="508.6" width="6.2" height="57.4" fill="#46954a" stroke="#005a00" stroke-width="1"/>
<rect x="747.9" y="506.35" width="6.2" height="59.65" fill="#46954a" stroke="#005a00" stroke-width="1"/>
<rect x="755.9" y="477.42" width="6.2" height="88.58" fill="#46954a" stroke="#005a00" stroke-width="1"/>
<rect x="763.9" y="470.39" width="6.2" height="95.61" fill="#46954a" stroke="#005a00" stroke-width="1"/>
<rect x="771.9" y="486.12" width="6.2" height="79.88" fill="#46954a" stroke="#005a00" stroke-width="1"/>
<rect x="779.9" y="481.63" width="6.2" height="84.37" fill="#46954a" stroke="#005a00" stroke-width="1"/>
<rect x="787.9" y="477.42" width="6.2" height="88.58" fill="#ef4a4a" stroke="#c40000" stroke-width="1"/>
<rect x="795.9" y="487.53" width="6.2" height="78.47" fill="#ef4a4a" stroke="#c40000" stroke-width="1"/>
<rect x="803.9" y="481.63" width="6.2" height="84.37" fill="#46954a" stroke="#005a00" stroke-width="1"/>
<rect x="811.9" y="503.54" width="6.2" height="62.46" fill="#ef4a4a" stroke="#c40000" stroke-width="1"/>
<rect x="819.9" y="501.57" width="6.2" height="64.43" fill="#46954a" stroke="#005a00" stroke-width="1"/>
<line x1="25.5" y1="445" x2="25.5" y2="446.6" stroke="#8f7b50" stroke-width="1" />
<line x1="33.5" y1="445" x2="33.5" y2="446.6" stroke="#8f7b50" stroke-width="1" />
<line x1="41.5" y1="445" x2="41.5" y2="446.6" stroke="#8f7b50" stroke-width="1" />
<line x1="49.5" y1="445" x2="49.5" y2="448" stroke="#4a3f28" stroke-width="1" />
<line x1="57.5" y1="445" x2="57.5" y2="446.6" stroke="#8f7b50" stroke-width="1" />
<line x1="65.5" y1="445" x2="65.5" y2="446.6" stroke="#8f7b50" stroke-width="1" />
<line x1="73.5" y1="445" x2="73.5" y2="446.6" stroke="#8f7b50" stroke-width="1" />
<line x1="81.5" y1="445" x2="81.5" y2="448" stroke="#4a3f28" stroke-width="1" />
<line x1="89.5" y1="445" x2="89.5" y2="446.6" stroke="#8f7b50" stroke-width="1" />
<line x1="97.5" y1="445" x2="97.5" y2="446.6" stroke="#8f7b50" stroke-width="1" />
<line x1="105.5" y1="445" x2="105.5" y2="446.6" stroke="#8f7b50" stroke-width="1" />
<line x1="114.5" y1="445" x2="114.5" y2="448" stroke="#4a3f28" stroke-width="1" />
<line x1="122.5" y1="445" x2="122.5" y2="446.6" stroke="#8f7b50" stroke-width="1" />
<line x1="130.5" y1="445" x2="130.5" y2="446.6" stroke="#8f7b50" stroke-width="1" />
<line x1="138.5" y1="445" x2="138.5" y2="446.6" stroke="#8f7b50" stroke-width="1" />
<line x1="146.5" y1="445" x2="146.5" y2="446.6" stroke="#8f7b50" stroke-width="1" />
<line x1="154.5" y1="445" x2="154.5" y2="448" stroke="#4a3f28" stroke-width="1" />
<line x1="162.5" y1="445" x2="162.5" y2="446.6" stroke="#8f7b50" stroke-width="1" />
<line x1="170.5" y1="445" x2="170.5" y2="446.6" stroke="#8f7b50" stroke-width="1" />
<line x1="178.5" y1="445" x2="178.5" y2="446.6" stroke="#8f7b50" stroke-width="1" />
<line x1="186.5" y1="445" x2="186.5" y2="448" stroke="#4a3f28" stroke-width="1" />
<line x1="194.5" y1="445" x2="194.5" y2="446.6" stroke="#8f7b50" stroke-width="1" />
<line x1="202.5" y1="445" x2="202.5" y2="446.6" stroke="#8f7b50" stroke-width="1" />
<line x1="210.5" y1="445" x2="210.5" y2="446.6" stroke="#8f7b50" stroke-width="1" />
<line x1="218.5" y1="445" x2="218.5" y2="448" stroke="#4a3f28" stroke-width="1" />
<line x1="226.5" y1="445" x2="226.5" y2="446.6" stroke="#8f7b50" stroke-width="1" />
<line x1="235.5" y1="445" x2="235.5" y2="446.6" stroke="#8f7b50" stroke-width="1" />
<line x1="243.5" y1="445" x2="243.5" y2="446.6" stroke="#8f7b50" stroke-width="1" />
<line x1="251.5" y1="445" x2="251.5" y2="446.6" stroke="#8f7b50" stroke-width="1" />
<line x1="259.5" y1="445" x2="259.5" y2="448" stroke="#4a3f28" stroke-width="1" />
<line x1="267.5" y1="445" x2="267.5" y2="446.6" stroke="#8f7b50" stroke-width="1" />
<line x1="275.5" y1="445" x2="275.5" y2="446.6" stroke="#8f7b50" stroke-width="1" />
<line x1="283.5" y1="445" x2="283.5" y2="446.6" stroke="#8f7b50" stroke-width="1" />
<line x1="291.5" y1="445" x2="291.5" y2="448" stroke="#4a3f28" stroke-width="1" />
<line x1="299.5" y1="445" x2="299.5" y2="446.6" stroke="#8f7b50" stroke-width="1" />
<line x1="307.5" y1="445" x2="307.5" y2="446.6" stroke="#8f7b50" stroke-width="1" />
<line x1="315.5" y1="445" x2="315.5" y2="446.6" stroke="#8f7b50" stroke-width="1" />
<line x1="323.5" y1="445" x2="323.5" y2="448" stroke="#4a3f28" stroke-width="1" />
<line x1="331.5" y1="445" x2="331.5" y2="446.6" stroke="#8f7b50" stroke-width="1" />
<line x1="339.5" y1="445" x2="339.5" y2="446.6" stroke="#8f7b50" stroke-width="1" />
<line x1="347.5" y1="445" x2="347.5" y2="446.6" stroke="#8f7b50" stroke-width="1" />
<line x1="356.5" y1="445" x2="356.5" y2="446.6" stroke="#8f7b50" stroke-width="1" />
<line x1="364.5" y1="445" x2="364.5" y2="448" stroke="#4a3f28" stroke-width="1" />
<line x1="372.5" y1="445" x2="372.5" y2="446.6" stroke="#8f7b50" stroke-width="1" />
<line x1="380.5" y1="445" x2="380.5" y2="446.6" stroke="#8f7b50" stroke-width="1" />
<line x1="388.5" y1="445" x2="388.5" y2="446.6" stroke="#8f7b50" stroke-width="1" />
<line x1="396.5" y1="445" x2="396.5" y2="448" stroke="#4a3f28" stroke-width="1" />
<line x1="404.5" y1="445" x2="404.5" y2="446.6" stroke="#8f7b50" stroke-width="1" />
<line x1="412.5" y1="445" x2="412.5" y2="446.6" stroke="#8f7b50" stroke-width="1" />
<line x1="420.5" y1="445" x2="420.5" y2="446.6" stroke="#8f7b50" stroke-width="1" />
<line x1="428.5" y1="445" x2="428.5" y2="446.6" stroke="#8f7b50" stroke-width="1" />
<line x1="436.5" y1="445" x2="436.5" y2="448" stroke="#4a3f28" stroke-width="1" />
<line x1="444.5" y1="445" x2="444.5" y2="446.6" stroke="#8f7b50" stroke-width="1" />
<line x1="452.5" y1="445" x2="452.5" y2="446.6" stroke="#8f7b50" stroke-width="1" />
<line x1="460.5" y1="445" x2="460.5" y2="446.6" stroke="#8f7b50" stroke-width="1" />
<line x1="468.5" y1="445" x2="468.5" y2="448" stroke="#4a3f28" stroke-width="1" />
<line x1="476.5" y1="445" x2="476.5" y2="446.6" stroke="#8f7b50" stroke-width="1" />
<line x1="485.5" y1="445" x2="485.5" y2="446.6" stroke="#8f7b50" stroke-width="1" />
<line x1="493.5" y1="445" x2="493.5" y2="446.6" stroke="#8f7b50" stroke-width="1" />
<line x1="501.5" y1="445" x2="501.5" y2="448" stroke="#4a3f28" stroke-width="1" />
<line x1="509.5" y1="445" x2="509.5" y2="446.6" stroke="#8f7b50" stroke-width="1" />
<line x1="517.5" y1="445" x2="517.5" y2="446.6" stroke="#8f7b50" stroke-width="1" />
<line x1="525.5" y1="445" x2="525.5" y2="446.6" stroke="#8f7b50" stroke-width="1" />
<line x1="533.5" y1="445" x2="533.5" y2="446.6" stroke="#8f7b50" stroke-width="1" />
<line x1="541.5" y1="445" x2="541.5" y2="448" stroke="#4a3f28" stroke-width="1" />
<line x1="549.5" y1="445" x2="549.5" y2="446.6" stroke="#8f7b50" stroke-width="1" />
<line x1="557.5" y1="445" x2="557.5" y2="446.6" stroke="#8f7b50" stroke-width="1" />
<line x1="565.5" y1="445" x2="565.5" y2="446.6" stroke="#8f7b50" stroke-width="1" />
<line x1="573.5" y1="445" x2="573.5" y2="448" stroke="#4a3f28" stroke-width="1" />
<line x1="581.5" y1="445" x2="581.5" y2="446.6" stroke="#8f7b50" stroke-width="1" />
<line x1="589.5" y1="445" x2="589.5" y2="446.6" stroke="#8f7b50" stroke-width="1" />
<line x1="597.5" y1="445" x2="597.5" y2="446.6" stroke="#8f7b50" stroke-width="1" />
<line x1="606.5" y1="445" x2="606.5" y2="448" stroke="#4a3f28" stroke-width="1" />
<line x1="614.5" y1="445" x2="614.5" y2="446.6" stroke="#8f7b50" stroke-width="1" />
<line x1="622.5" y1="445" x2="622.5" y2="446.6" stroke="#8f7b50" stroke-width="1" />
<line x1="630.5" y1="445" x2="630.5" y2="446.6" stroke="#8f7b50" stroke-width="1" />
<line x1="638.5" y1="445" x2="638.5" y2="446.6" stroke="#8f7b50" stroke-width="1" />
<line x1="646.5" y1="445" x2="646.5" y2="448" stroke="#4a3f28" stroke-width="1" />
<line x1="654.5" y1="445" x2="654.5" y2="446.6" stroke="#8f7b50" stroke-width="1" />
<line x1="662.5" y1="445" x2="662.5" y2="446.6" stroke="#8f7b50" stroke-width="1" />
<line x1="670.5" y1="445" x2="670.5" y2="446.6" stroke="#8f7b50" stroke-width="1" />
<line x1="678.5" y1="445" x2="678.5" y2="448" stroke="#4a3f28" stroke-width="1" />
<line x1="686.5" y1="445" x2="686.5" y2="446.6" stroke="#8f7b50" stroke-width="1" />
<line x1="694.5" y1="445" x2="694.5" y2="446.6" stroke="#8f7b50" stroke-width="1" />
<line x1="702.5" y1="445" x2="702.5" y2="446.6" stroke="#8f7b50" stroke-width="1" />
<line x1="710.5" y1="445" x2="710.5" y2="448" stroke="#4a3f28" stroke-width="1" />
<line x1="718.5" y1="445" x2="718.5" y2="446.6" stroke="#8f7b50" stroke-width="1" />
<line x1="727.5" y1="445" x2="727.5" y2="446.6" stroke="#8f7b50" stroke-width="1" />
<line x1="735.5" y1="445" x2="735.5" y2="446.6" stroke="#8f7b50" stroke-width="1" />
<line x1="743.5" y1="445" x2="743.5" y2="446.6" stroke="#8f7b50" stroke-width="1" />
<line x1="751.5" y1="445" x2="751.5" y2="448" stroke="#4a3f28" stroke-width="1" />
<line x1="759.5" y1="445" x2="759.5" y2="446.6" stroke="#8f7b50" stroke-width="1" />
<line x1="767.5" y1="445" x2="767.5" y2="446.6" stroke="#8f7b50" stroke-width="1" />
<line x1="775.5" y1="445" x2="775.5" y2="446.6" stroke="#8f7b50" stroke-width="1" />
<line x1="783.5" y1="445" x2="783.5" y2="448" stroke="#4a3f28" stroke-width="1" />
<line x1="791.5" y1="445" x2="791.5" y2="446.6" stroke="#8f7b50" stroke-width="1" />
<line x1="799.5" y1="445" x2="799.5" y2="446.6" stroke="#8f7b50" stroke-width="1" />
<line x1="807.5" y1="445" x2="807.5" y2="446.6" stroke="#8f7b50" stroke-width="1" />
<line x1="815.5" y1="445" x2="815.5" y2="448" stroke="#4a3f28" stroke-width="1" />
<line x1="823.5" y1="445" x2="823.5" y2="446.6" stroke="#8f7b50" stroke-width="1" />
<line x1="831.5" y1="445" x2="831.5" y2="446.6" stroke="#8f7b50" stroke-width="1" />
<line x1="839.5" y1="445" x2="839.5" y2="446.6" stroke="#8f7b50" stroke-width="1" />
<line x1="848.5" y1="445" x2="848.5" y2="446.6" stroke="#8f7b50" stroke-width="1" />
<line x1="856.5" y1="445" x2="856.5" y2="448" stroke="#4a3f28" stroke-width="1" />
<line x1="864.5" y1="445" x2="864.5" y2="446.6" stroke="#8f7b50" stroke-width="1" />
<line x1="872.5" y1="445" x2="872.5" y2="446.6" stroke="#8f7b50" stroke-width="1" />
<line x1="880.5" y1="445" x2="880.5" y2="446.6" stroke="#8f7b50" stroke-width="1" />
<line x1="888.5" y1="445" x2="888.5" y2="448" stroke="#4a3f28" stroke-width="1" />
<line x1="896.5" y1="445" x2="896.5" y2="446.6" stroke="#8f7b50" stroke-width="1" />
<line x1="904.5" y1="445" x2="904.5" y2="446.6" stroke="#8f7b50" stroke-width="1" />
<line x1="912.5" y1="445" x2="912.5" y2="446.6" stroke="#8f7b50" stroke-width="1" />
<line x1="920.5" y1="445" x2="920.5" y2="446.6" stroke="#8f7b50" stroke-width="1" />
<line x1="928.5" y1="445" x2="928.5" y2="448" stroke="#4a3f28" stroke-width="1" />
<line x1="936.5" y1="445" x2="936.5" y2="446.6" stroke="#8f7b50" stroke-width="1" />
<line x1="944.5" y1="445" x2="944.5" y2="446.6" stroke="#8f7b50" stroke-width="1" />
<line x1="952.5" y1="445" x2="952.5" y2="446.6" stroke="#8f7b50" stroke-width="1" />
<line x1="960.5" y1="445" x2="960.5" y2="448" stroke="#4a3f28" stroke-width="1" />
<line x1="969.5" y1="445" x2="969.5" y2="446.6" stroke="#8f7b50" stroke-width="1" />
<line x1="977.5" y1="445" x2="977.5" y2="446.6" stroke="#8f7b50" stroke-width="1" />
<line x1="985.5" y1="445" x2="985.5" y2="446.6" stroke="#8f7b50" stroke-width="1" />
<line x1="993.5" y1="445" x2="993.5" y2="448" stroke="#4a3f28" stroke-width="1" />
<text x="49.6" y="457" font-size="11.6" fill="#000" font-weight="normal" font-family="'Liberation Sans', Arial, sans-serif" text-anchor="middle" letter-spacing="1.25">Oct</text>
<text x="81.86" y="457" font-size="11.6" fill="#000" font-weight="normal" font-family="'Liberation Sans', Arial, sans-serif" text-anchor="middle" letter-spacing="1.25">Nov</text>
<text x="114.13" y="457" font-size="11.6" fill="#000" font-weight="normal" font-family="'Liberation Sans', Arial, sans-serif" text-anchor="middle" letter-spacing="1.25">Dec</text>
<text x="153.86" y="457" font-size="13.2" fill="#000" font-weight="bold" font-family="'Liberation Sans', Arial, sans-serif" text-anchor="middle" textLength="28.6" lengthAdjust="spacingAndGlyphs" stroke="#000" stroke-width="0.3">2015</text>
<text x="186.72" y="457" font-size="11.6" fill="#000" font-weight="normal" font-family="'Liberation Sans', Arial, sans-serif" text-anchor="middle" letter-spacing="1.25">Feb</text>
<text x="218.98" y="457" font-size="11.6" fill="#000" font-weight="normal" font-family="'Liberation Sans', Arial, sans-serif" text-anchor="middle" letter-spacing="1.25">Mar</text>
<text x="259.31" y="457" font-size="11.6" fill="#000" font-weight="normal" font-family="'Liberation Sans', Arial, sans-serif" text-anchor="middle" letter-spacing="1.25">Apr</text>
<text x="291.58" y="457" font-size="11.6" fill="#000" font-weight="normal" font-family="'Liberation Sans', Arial, sans-serif" text-anchor="middle" letter-spacing="1.25">May</text>
<text x="323.84" y="457" font-size="11.6" fill="#000" font-weight="normal" font-family="'Liberation Sans', Arial, sans-serif" text-anchor="middle" letter-spacing="1.25">Jun</text>
<text x="364.17" y="457" font-size="11.6" fill="#000" font-weight="normal" font-family="'Liberation Sans', Arial, sans-serif" text-anchor="middle" letter-spacing="1.25">Jul</text>
<text x="396.44" y="457" font-size="11.6" fill="#000" font-weight="normal" font-family="'Liberation Sans', Arial, sans-serif" text-anchor="middle" letter-spacing="1.25">Aug</text>
<text x="436.77" y="457" font-size="11.6" fill="#000" font-weight="normal" font-family="'Liberation Sans', Arial, sans-serif" text-anchor="middle" letter-spacing="1.25">Sep</text>
<text x="469.03" y="457" font-size="11.6" fill="#000" font-weight="normal" font-family="'Liberation Sans', Arial, sans-serif" text-anchor="middle" letter-spacing="1.25">Oct</text>
<text x="501.29" y="457" font-size="11.6" fill="#000" font-weight="normal" font-family="'Liberation Sans', Arial, sans-serif" text-anchor="middle" letter-spacing="1.25">Nov</text>
<text x="541.62" y="457" font-size="11.6" fill="#000" font-weight="normal" font-family="'Liberation Sans', Arial, sans-serif" text-anchor="middle" letter-spacing="1.25">Dec</text>
<text x="573.29" y="457" font-size="13.2" fill="#000" font-weight="bold" font-family="'Liberation Sans', Arial, sans-serif" text-anchor="middle" textLength="28.6" lengthAdjust="spacingAndGlyphs" stroke="#000" stroke-width="0.3">2016</text>
<text x="606.15" y="457" font-size="11.6" fill="#000" font-weight="normal" font-family="'Liberation Sans', Arial, sans-serif" text-anchor="middle" letter-spacing="1.25">Feb</text>
<text x="646.48" y="457" font-size="11.6" fill="#000" font-weight="normal" font-family="'Liberation Sans', Arial, sans-serif" text-anchor="middle" letter-spacing="1.25">Mar</text>
<text x="678.75" y="457" font-size="11.6" fill="#000" font-weight="normal" font-family="'Liberation Sans', Arial, sans-serif" text-anchor="middle" letter-spacing="1.25">Apr</text>
<text x="711.01" y="457" font-size="11.6" fill="#000" font-weight="normal" font-family="'Liberation Sans', Arial, sans-serif" text-anchor="middle" letter-spacing="1.25">May</text>
<text x="751.34" y="457" font-size="11.6" fill="#000" font-weight="normal" font-family="'Liberation Sans', Arial, sans-serif" text-anchor="middle" letter-spacing="1.25">Jun</text>
<text x="783.6" y="457" font-size="11.6" fill="#000" font-weight="normal" font-family="'Liberation Sans', Arial, sans-serif" text-anchor="middle" letter-spacing="1.25">Jul</text>
<text x="815.87" y="457" font-size="11.6" fill="#000" font-weight="normal" font-family="'Liberation Sans', Arial, sans-serif" text-anchor="middle" letter-spacing="1.25">Aug</text>
<text x="856.2" y="457" font-size="11.6" fill="#000" font-weight="normal" font-family="'Liberation Sans', Arial, sans-serif" text-anchor="middle" letter-spacing="1.25">Sep</text>
<text x="888.46" y="457" font-size="11.6" fill="#000" font-weight="normal" font-family="'Liberation Sans', Arial, sans-serif" text-anchor="middle" letter-spacing="1.25">Oct</text>
<text x="928.79" y="457" font-size="11.6" fill="#000" font-weight="normal" font-family="'Liberation Sans', Arial, sans-serif" text-anchor="middle" letter-spacing="1.25">Nov</text>
<text x="961.06" y="457" font-size="11.6" fill="#000" font-weight="normal" font-family="'Liberation Sans', Arial, sans-serif" text-anchor="middle" letter-spacing="1.25">Dec</text>
<text x="992.72" y="457" font-size="13.2" fill="#000" font-weight="bold" font-family="'Liberation Sans', Arial, sans-serif" text-anchor="middle" textLength="28.6" lengthAdjust="spacingAndGlyphs" stroke="#000" stroke-width="0.3">2017</text>
<line x1="25.5" y1="460" x2="25.5" y2="458.4" stroke="#8f7b50" stroke-width="1" />
<line x1="33.5" y1="460" x2="33.5" y2="458.4" stroke="#8f7b50" stroke-width="1" />
<line x1="41.5" y1="460" x2="41.5" y2="458.4" stroke="#8f7b50" stroke-width="1" />
<line x1="49.5" y1="460" x2="49.5" y2="457" stroke="#4a3f28" stroke-width="1" />
<line x1="57.5" y1="460" x2="57.5" y2="458.4" stroke="#8f7b50" stroke-width="1" />
<line x1="65.5" y1="460" x2="65.5" y2="458.4" stroke="#8f7b50" stroke-width="1" />
<line x1="73.5" y1="460" x2="73.5" y2="458.4" stroke="#8f7b50" stroke-width="1" />
<line x1="81.5" y1="460" x2="81.5" y2="457" stroke="#4a3f28" stroke-width="1" />
<line x1="89.5" y1="460" x2="89.5" y2="458.4" stroke="#8f7b50" stroke-width="1" />
<line x1="97.5" y1="460" x2="97.5" y2="458.4" stroke="#8f7b50" stroke-width="1" />
<line x1="105.5" y1="460" x2="105.5" y2="458.4" stroke="#8f7b50" stroke-width="1" />
<line x1="114.5" y1="460" x2="114.5" y2="457" stroke="#4a3f28" stroke-width="1" />
<line x1="122.5" y1="460" x2="122.5" y2="458.4" stroke="#8f7b50" stroke-width="1" />
<line x1="130.5" y1="460" x2="130.5" y2="458.4" stroke="#8f7b50" stroke-width="1" />
<line x1="138.5" y1="460" x2="138.5" y2="458.4" stroke="#8f7b50" stroke-width="1" />
<line x1="146.5" y1="460" x2="146.5" y2="458.4" stroke="#8f7b50" stroke-width="1" />
<line x1="154.5" y1="460" x2="154.5" y2="457" stroke="#4a3f28" stroke-width="1" />
<line x1="162.5" y1="460" x2="162.5" y2="458.4" stroke="#8f7b50" stroke-width="1" />
<line x1="170.5" y1="460" x2="170.5" y2="458.4" stroke="#8f7b50" stroke-width="1" />
<line x1="178.5" y1="460" x2="178.5" y2="458.4" stroke="#8f7b50" stroke-width="1" />
<line x1="186.5" y1="460" x2="186.5" y2="457" stroke="#4a3f28" stroke-width="1" />
<line x1="194.5" y1="460" x2="194.5" y2="458.4" stroke="#8f7b50" stroke-width="1" />
<line x1="202.5" y1="460" x2="202.5" y2="458.4" stroke="#8f7b50" stroke-width="1" />
<line x1="210.5" y1="460" x2="210.5" y2="458.4" stroke="#8f7b50" stroke-width="1" />
<line x1="218.5" y1="460" x2="218.5" y2="457" stroke="#4a3f28" stroke-width="1" />
<line x1="226.5" y1="460" x2="226.5" y2="458.4" stroke="#8f7b50" stroke-width="1" />
<line x1="235.5" y1="460" x2="235.5" y2="458.4" stroke="#8f7b50" stroke-width="1" />
<line x1="243.5" y1="460" x2="243.5" y2="458.4" stroke="#8f7b50" stroke-width="1" />
<line x1="251.5" y1="460" x2="251.5" y2="458.4" stroke="#8f7b50" stroke-width="1" />
<line x1="259.5" y1="460" x2="259.5" y2="457" stroke="#4a3f28" stroke-width="1" />
<line x1="267.5" y1="460" x2="267.5" y2="458.4" stroke="#8f7b50" stroke-width="1" />
<line x1="275.5" y1="460" x2="275.5" y2="458.4" stroke="#8f7b50" stroke-width="1" />
<line x1="283.5" y1="460" x2="283.5" y2="458.4" stroke="#8f7b50" stroke-width="1" />
<line x1="291.5" y1="460" x2="291.5" y2="457" stroke="#4a3f28" stroke-width="1" />
<line x1="299.5" y1="460" x2="299.5" y2="458.4" stroke="#8f7b50" stroke-width="1" />
<line x1="307.5" y1="460" x2="307.5" y2="458.4" stroke="#8f7b50" stroke-width="1" />
<line x1="315.5" y1="460" x2="315.5" y2="458.4" stroke="#8f7b50" stroke-width="1" />
<line x1="323.5" y1="460" x2="323.5" y2="457" stroke="#4a3f28" stroke-width="1" />
<line x1="331.5" y1="460" x2="331.5" y2="458.4" stroke="#8f7b50" stroke-width="1" />
<line x1="339.5" y1="460" x2="339.5" y2="458.4" stroke="#8f7b50" stroke-width="1" />
<line x1="347.5" y1="460" x2="347.5" y2="458.4" stroke="#8f7b50" stroke-width="1" />
<line x1="356.5" y1="460" x2="356.5" y2="458.4" stroke="#8f7b50" stroke-width="1" />
<line x1="364.5" y1="460" x2="364.5" y2="457" stroke="#4a3f28" stroke-width="1" />
<line x1="372.5" y1="460" x2="372.5" y2="458.4" stroke="#8f7b50" stroke-width="1" />
<line x1="380.5" y1="460" x2="380.5" y2="458.4" stroke="#8f7b50" stroke-width="1" />
<line x1="388.5" y1="460" x2="388.5" y2="458.4" stroke="#8f7b50" stroke-width="1" />
<line x1="396.5" y1="460" x2="396.5" y2="457" stroke="#4a3f28" stroke-width="1" />
<line x1="404.5" y1="460" x2="404.5" y2="458.4" stroke="#8f7b50" stroke-width="1" />
<line x1="412.5" y1="460" x2="412.5" y2="458.4" stroke="#8f7b50" stroke-width="1" />
<line x1="420.5" y1="460" x2="420.5" y2="458.4" stroke="#8f7b50" stroke-width="1" />
<line x1="428.5" y1="460" x2="428.5" y2="458.4" stroke="#8f7b50" stroke-width="1" />
<line x1="436.5" y1="460" x2="436.5" y2="457" stroke="#4a3f28" stroke-width="1" />
<line x1="444.5" y1="460" x2="444.5" y2="458.4" stroke="#8f7b50" stroke-width="1" />
<line x1="452.5" y1="460" x2="452.5" y2="458.4" stroke="#8f7b50" stroke-width="1" />
<line x1="460.5" y1="460" x2="460.5" y2="458.4" stroke="#8f7b50" stroke-width="1" />
<line x1="468.5" y1="460" x2="468.5" y2="457" stroke="#4a3f28" stroke-width="1" />
<line x1="476.5" y1="460" x2="476.5" y2="458.4" stroke="#8f7b50" stroke-width="1" />
<line x1="485.5" y1="460" x2="485.5" y2="458.4" stroke="#8f7b50" stroke-width="1" />
<line x1="493.5" y1="460" x2="493.5" y2="458.4" stroke="#8f7b50" stroke-width="1" />
<line x1="501.5" y1="460" x2="501.5" y2="457" stroke="#4a3f28" stroke-width="1" />
<line x1="509.5" y1="460" x2="509.5" y2="458.4" stroke="#8f7b50" stroke-width="1" />
<line x1="517.5" y1="460" x2="517.5" y2="458.4" stroke="#8f7b50" stroke-width="1" />
<line x1="525.5" y1="460" x2="525.5" y2="458.4" stroke="#8f7b50" stroke-width="1" />
<line x1="533.5" y1="460" x2="533.5" y2="458.4" stroke="#8f7b50" stroke-width="1" />
<line x1="541.5" y1="460" x2="541.5" y2="457" stroke="#4a3f28" stroke-width="1" />
<line x1="549.5" y1="460" x2="549.5" y2="458.4" stroke="#8f7b50" stroke-width="1" />
<line x1="557.5" y1="460" x2="557.5" y2="458.4" stroke="#8f7b50" stroke-width="1" />
<line x1="565.5" y1="460" x2="565.5" y2="458.4" stroke="#8f7b50" stroke-width="1" />
<line x1="573.5" y1="460" x2="573.5" y2="457" stroke="#4a3f28" stroke-width="1" />
<line x1="581.5" y1="460" x2="581.5" y2="458.4" stroke="#8f7b50" stroke-width="1" />
<line x1="589.5" y1="460" x2="589.5" y2="458.4" stroke="#8f7b50" stroke-width="1" />
<line x1="597.5" y1="460" x2="597.5" y2="458.4" stroke="#8f7b50" stroke-width="1" />
<line x1="606.5" y1="460" x2="606.5" y2="457" stroke="#4a3f28" stroke-width="1" />
<line x1="614.5" y1="460" x2="614.5" y2="458.4" stroke="#8f7b50" stroke-width="1" />
<line x1="622.5" y1="460" x2="622.5" y2="458.4" stroke="#8f7b50" stroke-width="1" />
<line x1="630.5" y1="460" x2="630.5" y2="458.4" stroke="#8f7b50" stroke-width="1" />
<line x1="638.5" y1="460" x2="638.5" y2="458.4" stroke="#8f7b50" stroke-width="1" />
<line x1="646.5" y1="460" x2="646.5" y2="457" stroke="#4a3f28" stroke-width="1" />
<line x1="654.5" y1="460" x2="654.5" y2="458.4" stroke="#8f7b50" stroke-width="1" />
<line x1="662.5" y1="460" x2="662.5" y2="458.4" stroke="#8f7b50" stroke-width="1" />
<line x1="670.5" y1="460" x2="670.5" y2="458.4" stroke="#8f7b50" stroke-width="1" />
<line x1="678.5" y1="460" x2="678.5" y2="457" stroke="#4a3f28" stroke-width="1" />
<line x1="686.5" y1="460" x2="686.5" y2="458.4" stroke="#8f7b50" stroke-width="1" />
<line x1="694.5" y1="460" x2="694.5" y2="458.4" stroke="#8f7b50" stroke-width="1" />
<line x1="702.5" y1="460" x2="702.5" y2="458.4" stroke="#8f7b50" stroke-width="1" />
<line x1="710.5" y1="460" x2="710.5" y2="457" stroke="#4a3f28" stroke-width="1" />
<line x1="718.5" y1="460" x2="718.5" y2="458.4" stroke="#8f7b50" stroke-width="1" />
<line x1="727.5" y1="460" x2="727.5" y2="458.4" stroke="#8f7b50" stroke-width="1" />
<line x1="735.5" y1="460" x2="735.5" y2="458.4" stroke="#8f7b50" stroke-width="1" />
<line x1="743.5" y1="460" x2="743.5" y2="458.4" stroke="#8f7b50" stroke-width="1" />
<line x1="751.5" y1="460" x2="751.5" y2="457" stroke="#4a3f28" stroke-width="1" />
<line x1="759.5" y1="460" x2="759.5" y2="458.4" stroke="#8f7b50" stroke-width="1" />
<line x1="767.5" y1="460" x2="767.5" y2="458.4" stroke="#8f7b50" stroke-width="1" />
<line x1="775.5" y1="460" x2="775.5" y2="458.4" stroke="#8f7b50" stroke-width="1" />
<line x1="783.5" y1="460" x2="783.5" y2="457" stroke="#4a3f28" stroke-width="1" />
<line x1="791.5" y1="460" x2="791.5" y2="458.4" stroke="#8f7b50" stroke-width="1" />
<line x1="799.5" y1="460" x2="799.5" y2="458.4" stroke="#8f7b50" stroke-width="1" />
<line x1="807.5" y1="460" x2="807.5" y2="458.4" stroke="#8f7b50" stroke-width="1" />
<line x1="815.5" y1="460" x2="815.5" y2="457" stroke="#4a3f28" stroke-width="1" />
<line x1="823.5" y1="460" x2="823.5" y2="458.4" stroke="#8f7b50" stroke-width="1" />
<line x1="831.5" y1="460" x2="831.5" y2="458.4" stroke="#8f7b50" stroke-width="1" />
<line x1="839.5" y1="460" x2="839.5" y2="458.4" stroke="#8f7b50" stroke-width="1" />
<line x1="848.5" y1="460" x2="848.5" y2="458.4" stroke="#8f7b50" stroke-width="1" />
<line x1="856.5" y1="460" x2="856.5" y2="457" stroke="#4a3f28" stroke-width="1" />
<line x1="864.5" y1="460" x2="864.5" y2="458.4" stroke="#8f7b50" stroke-width="1" />
<line x1="872.5" y1="460" x2="872.5" y2="458.4" stroke="#8f7b50" stroke-width="1" />
<line x1="880.5" y1="460" x2="880.5" y2="458.4" stroke="#8f7b50" stroke-width="1" />
<line x1="888.5" y1="460" x2="888.5" y2="457" stroke="#4a3f28" stroke-width="1" />
<line x1="896.5" y1="460" x2="896.5" y2="458.4" stroke="#8f7b50" stroke-width="1" />
<line x1="904.5" y1="460" x2="904.5" y2="458.4" stroke="#8f7b50" stroke-width="1" />
<line x1="912.5" y1="460" x2="912.5" y2="458.4" stroke="#8f7b50" stroke-width="1" />
<line x1="920.5" y1="460" x2="920.5" y2="458.4" stroke="#8f7b50" stroke-width="1" />
<line x1="928.5" y1="460" x2="928.5" y2="457" stroke="#4a3f28" stroke-width="1" />
<line x1="936.5" y1="460" x2="936.5" y2="458.4" stroke="#8f7b50" stroke-width="1" />
<line x1="944.5" y1="460" x2="944.5" y2="458.4" stroke="#8f7b50" stroke-width="1" />
<line x1="952.5" y1="460" x2="952.5" y2="458.4" stroke="#8f7b50" stroke-width="1" />
<line x1="960.5" y1="460" x2="960.5" y2="457" stroke="#4a3f28" stroke-width="1" />
<line x1="969.5" y1="460" x2="969.5" y2="458.4" stroke="#8f7b50" stroke-width="1" />
<line x1="977.5" y1="460" x2="977.5" y2="458.4" stroke="#8f7b50" stroke-width="1" />
<line x1="985.5" y1="460" x2="985.5" y2="458.4" stroke="#8f7b50" stroke-width="1" />
<line x1="993.5" y1="460" x2="993.5" y2="457" stroke="#4a3f28" stroke-width="1" />
<line x1="25.5" y1="777" x2="25.5" y2="778.6" stroke="#8f7b50" stroke-width="1" />
<line x1="33.5" y1="777" x2="33.5" y2="778.6" stroke="#8f7b50" stroke-width="1" />
<line x1="41.5" y1="777" x2="41.5" y2="778.6" stroke="#8f7b50" stroke-width="1" />
<line x1="49.5" y1="777" x2="49.5" y2="780" stroke="#4a3f28" stroke-width="1" />
<line x1="57.5" y1="777" x2="57.5" y2="778.6" stroke="#8f7b50" stroke-width="1" />
<line x1="65.5" y1="777" x2="65.5" y2="778.6" stroke="#8f7b50" stroke-width="1" />
<line x1="73.5" y1="777" x2="73.5" y2="778.6" stroke="#8f7b50" stroke-width="1" />
<line x1="81.5" y1="777" x2="81.5" y2="780" stroke="#4a3f28" stroke-width="1" />
<line x1="89.5" y1="777" x2="89.5" y2="778.6" stroke="#8f7b50" stroke-width="1" />
<line x1="97.5" y1="777" x2="97.5" y2="778.6" stroke="#8f7b50" stroke-width="1" />
<line x1="105.5" y1="777" x2="105.5" y2="778.6" stroke="#8f7b50" stroke-width="1" />
<line x1="114.5" y1="777" x2="114.5" y2="780" stroke="#4a3f28" stroke-width="1" />
<line x1="122.5" y1="777" x2="122.5" y2="778.6" stroke="#8f7b50" stroke-width="1" />
<line x1="130.5" y1="777" x2="130.5" y2="778.6" stroke="#8f7b50" stroke-width="1" />
<line x1="138.5" y1="777" x2="138.5" y2="778.6" stroke="#8f7b50" stroke-width="1" />
<line x1="146.5" y1="777" x2="146.5" y2="778.6" stroke="#8f7b50" stroke-width="1" />
<line x1="154.5" y1="777" x2="154.5" y2="780" stroke="#4a3f28" stroke-width="1" />
<line x1="162.5" y1="777" x2="162.5" y2="778.6" stroke="#8f7b50" stroke-width="1" />
<line x1="170.5" y1="777" x2="170.5" y2="778.6" stroke="#8f7b50" stroke-width="1" />
<line x1="178.5" y1="777" x2="178.5" y2="778.6" stroke="#8f7b50" stroke-width="1" />
<line x1="186.5" y1="777" x2="186.5" y2="780" stroke="#4a3f28" stroke-width="1" />
<line x1="194.5" y1="777" x2="194.5" y2="778.6" stroke="#8f7b50" stroke-width="1" />
<line x1="202.5" y1="777" x2="202.5" y2="778.6" stroke="#8f7b50" stroke-width="1" />
<line x1="210.5" y1="777" x2="210.5" y2="778.6" stroke="#8f7b50" stroke-width="1" />
<line x1="218.5" y1="777" x2="218.5" y2="780" stroke="#4a3f28" stroke-width="1" />
<line x1="226.5" y1="777" x2="226.5" y2="778.6" stroke="#8f7b50" stroke-width="1" />
<line x1="235.5" y1="777" x2="235.5" y2="778.6" stroke="#8f7b50" stroke-width="1" />
<line x1="243.5" y1="777" x2="243.5" y2="778.6" stroke="#8f7b50" stroke-width="1" />
<line x1="251.5" y1="777" x2="251.5" y2="778.6" stroke="#8f7b50" stroke-width="1" />
<line x1="259.5" y1="777" x2="259.5" y2="780" stroke="#4a3f28" stroke-width="1" />
<line x1="267.5" y1="777" x2="267.5" y2="778.6" stroke="#8f7b50" stroke-width="1" />
<line x1="275.5" y1="777" x2="275.5" y2="778.6" stroke="#8f7b50" stroke-width="1" />
<line x1="283.5" y1="777" x2="283.5" y2="778.6" stroke="#8f7b50" stroke-width="1" />
<line x1="291.5" y1="777" x2="291.5" y2="780" stroke="#4a3f28" stroke-width="1" />
<line x1="299.5" y1="777" x2="299.5" y2="778.6" stroke="#8f7b50" stroke-width="1" />
<line x1="307.5" y1="777" x2="307.5" y2="778.6" stroke="#8f7b50" stroke-width="1" />
<line x1="315.5" y1="777" x2="315.5" y2="778.6" stroke="#8f7b50" stroke-width="1" />
<line x1="323.5" y1="777" x2="323.5" y2="780" stroke="#4a3f28" stroke-width="1" />
<line x1="331.5" y1="777" x2="331.5" y2="778.6" stroke="#8f7b50" stroke-width="1" />
<line x1="339.5" y1="777" x2="339.5" y2="778.6" stroke="#8f7b50" stroke-width="1" />
<line x1="347.5" y1="777" x2="347.5" y2="778.6" stroke="#8f7b50" stroke-width="1" />
<line x1="356.5" y1="777" x2="356.5" y2="778.6" stroke="#8f7b50" stroke-width="1" />
<line x1="364.5" y1="777" x2="364.5" y2="780" stroke="#4a3f28" stroke-width="1" />
<line x1="372.5" y1="777" x2="372.5" y2="778.6" stroke="#8f7b50" stroke-width="1" />
<line x1="380.5" y1="777" x2="380.5" y2="778.6" stroke="#8f7b50" stroke-width="1" />
<line x1="388.5" y1="777" x2="388.5" y2="778.6" stroke="#8f7b50" stroke-width="1" />
<line x1="396.5" y1="777" x2="396.5" y2="780" stroke="#4a3f28" stroke-width="1" />
<line x1="404.5" y1="777" x2="404.5" y2="778.6" stroke="#8f7b50" stroke-width="1" />
<line x1="412.5" y1="777" x2="412.5" y2="778.6" stroke="#8f7b50" stroke-width="1" />
<line x1="420.5" y1="777" x2="420.5" y2="778.6" stroke="#8f7b50" stroke-width="1" />
<line x1="428.5" y1="777" x2="428.5" y2="778.6" stroke="#8f7b50" stroke-width="1" />
<line x1="436.5" y1="777" x2="436.5" y2="780" stroke="#4a3f28" stroke-width="1" />
<line x1="444.5" y1="777" x2="444.5" y2="778.6" stroke="#8f7b50" stroke-width="1" />
<line x1="452.5" y1="777" x2="452.5" y2="778.6" stroke="#8f7b50" stroke-width="1" />
<line x1="460.5" y1="777" x2="460.5" y2="778.6" stroke="#8f7b50" stroke-width="1" />
<line x1="468.5" y1="777" x2="468.5" y2="780" stroke="#4a3f28" stroke-width="1" />
<line x1="476.5" y1="777" x2="476.5" y2="778.6" stroke="#8f7b50" stroke-width="1" />
<line x1="485.5" y1="777" x2="485.5" y2="778.6" stroke="#8f7b50" stroke-width="1" />
<line x1="493.5" y1="777" x2="493.5" y2="778.6" stroke="#8f7b50" stroke-width="1" />
<line x1="501.5" y1="777" x2="501.5" y2="780" stroke="#4a3f28" stroke-width="1" />
<line x1="509.5" y1="777" x2="509.5" y2="778.6" stroke="#8f7b50" stroke-width="1" />
<line x1="517.5" y1="777" x2="517.5" y2="778.6" stroke="#8f7b50" stroke-width="1" />
<line x1="525.5" y1="777" x2="525.5" y2="778.6" stroke="#8f7b50" stroke-width="1" />
<line x1="533.5" y1="777" x2="533.5" y2="778.6" stroke="#8f7b50" stroke-width="1" />
<line x1="541.5" y1="777" x2="541.5" y2="780" stroke="#4a3f28" stroke-width="1" />
<line x1="549.5" y1="777" x2="549.5" y2="778.6" stroke="#8f7b50" stroke-width="1" />
<line x1="557.5" y1="777" x2="557.5" y2="778.6" stroke="#8f7b50" stroke-width="1" />
<line x1="565.5" y1="777" x2="565.5" y2="778.6" stroke="#8f7b50" stroke-width="1" />
<line x1="573.5" y1="777" x2="573.5" y2="780" stroke="#4a3f28" stroke-width="1" />
<line x1="581.5" y1="777" x2="581.5" y2="778.6" stroke="#8f7b50" stroke-width="1" />
<line x1="589.5" y1="777" x2="589.5" y2="778.6" stroke="#8f7b50" stroke-width="1" />
<line x1="597.5" y1="777" x2="597.5" y2="778.6" stroke="#8f7b50" stroke-width="1" />
<line x1="606.5" y1="777" x2="606.5" y2="780" stroke="#4a3f28" stroke-width="1" />
<line x1="614.5" y1="777" x2="614.5" y2="778.6" stroke="#8f7b50" stroke-width="1" />
<line x1="622.5" y1="777" x2="622.5" y2="778.6" stroke="#8f7b50" stroke-width="1" />
<line x1="630.5" y1="777" x2="630.5" y2="778.6" stroke="#8f7b50" stroke-width="1" />
<line x1="638.5" y1="777" x2="638.5" y2="778.6" stroke="#8f7b50" stroke-width="1" />
<line x1="646.5" y1="777" x2="646.5" y2="780" stroke="#4a3f28" stroke-width="1" />
<line x1="654.5" y1="777" x2="654.5" y2="778.6" stroke="#8f7b50" stroke-width="1" />
<line x1="662.5" y1="777" x2="662.5" y2="778.6" stroke="#8f7b50" stroke-width="1" />
<line x1="670.5" y1="777" x2="670.5" y2="778.6" stroke="#8f7b50" stroke-width="1" />
<line x1="678.5" y1="777" x2="678.5" y2="780" stroke="#4a3f28" stroke-width="1" />
<line x1="686.5" y1="777" x2="686.5" y2="778.6" stroke="#8f7b50" stroke-width="1" />
<line x1="694.5" y1="777" x2="694.5" y2="778.6" stroke="#8f7b50" stroke-width="1" />
<line x1="702.5" y1="777" x2="702.5" y2="778.6" stroke="#8f7b50" stroke-width="1" />
<line x1="710.5" y1="777" x2="710.5" y2="780" stroke="#4a3f28" stroke-width="1" />
<line x1="718.5" y1="777" x2="718.5" y2="778.6" stroke="#8f7b50" stroke-width="1" />
<line x1="727.5" y1="777" x2="727.5" y2="778.6" stroke="#8f7b50" stroke-width="1" />
<line x1="735.5" y1="777" x2="735.5" y2="778.6" stroke="#8f7b50" stroke-width="1" />
<line x1="743.5" y1="777" x2="743.5" y2="778.6" stroke="#8f7b50" stroke-width="1" />
<line x1="751.5" y1="777" x2="751.5" y2="780" stroke="#4a3f28" stroke-width="1" />
<line x1="759.5" y1="777" x2="759.5" y2="778.6" stroke="#8f7b50" stroke-width="1" />
<line x1="767.5" y1="777" x2="767.5" y2="778.6" stroke="#8f7b50" stroke-width="1" />
<line x1="775.5" y1="777" x2="775.5" y2="778.6" stroke="#8f7b50" stroke-width="1" />
<line x1="783.5" y1="777" x2="783.5" y2="780" stroke="#4a3f28" stroke-width="1" />
<line x1="791.5" y1="777" x2="791.5" y2="778.6" stroke="#8f7b50" stroke-width="1" />
<line x1="799.5" y1="777" x2="799.5" y2="778.6" stroke="#8f7b50" stroke-width="1" />
<line x1="807.5" y1="777" x2="807.5" y2="778.6" stroke="#8f7b50" stroke-width="1" />
<line x1="815.5" y1="777" x2="815.5" y2="780" stroke="#4a3f28" stroke-width="1" />
<line x1="823.5" y1="777" x2="823.5" y2="778.6" stroke="#8f7b50" stroke-width="1" />
<line x1="831.5" y1="777" x2="831.5" y2="778.6" stroke="#8f7b50" stroke-width="1" />
<line x1="839.5" y1="777" x2="839.5" y2="778.6" stroke="#8f7b50" stroke-width="1" />
<line x1="848.5" y1="777" x2="848.5" y2="778.6" stroke="#8f7b50" stroke-width="1" />
<line x1="856.5" y1="777" x2="856.5" y2="780" stroke="#4a3f28" stroke-width="1" />
<line x1="864.5" y1="777" x2="864.5" y2="778.6" stroke="#8f7b50" stroke-width="1" />
<line x1="872.5" y1="777" x2="872.5" y2="778.6" stroke="#8f7b50" stroke-width="1" />
<line x1="880.5" y1="777" x2="880.5" y2="778.6" stroke="#8f7b50" stroke-width="1" />
<line x1="888.5" y1="777" x2="888.5" y2="780" stroke="#4a3f28" stroke-width="1" />
<line x1="896.5" y1="777" x2="896.5" y2="778.6" stroke="#8f7b50" stroke-width="1" />
<line x1="904.5" y1="777" x2="904.5" y2="778.6" stroke="#8f7b50" stroke-width="1" />
<line x1="912.5" y1="777" x2="912.5" y2="778.6" stroke="#8f7b50" stroke-width="1" />
<line x1="920.5" y1="777" x2="920.5" y2="778.6" stroke="#8f7b50" stroke-width="1" />
<line x1="928.5" y1="777" x2="928.5" y2="780" stroke="#4a3f28" stroke-width="1" />
<line x1="936.5" y1="777" x2="936.5" y2="778.6" stroke="#8f7b50" stroke-width="1" />
<line x1="944.5" y1="777" x2="944.5" y2="778.6" stroke="#8f7b50" stroke-width="1" />
<line x1="952.5" y1="777" x2="952.5" y2="778.6" stroke="#8f7b50" stroke-width="1" />
<line x1="960.5" y1="777" x2="960.5" y2="780" stroke="#4a3f28" stroke-width="1" />
<line x1="969.5" y1="777" x2="969.5" y2="778.6" stroke="#8f7b50" stroke-width="1" />
<line x1="977.5" y1="777" x2="977.5" y2="778.6" stroke="#8f7b50" stroke-width="1" />
<line x1="985.5" y1="777" x2="985.5" y2="778.6" stroke="#8f7b50" stroke-width="1" />
<line x1="993.5" y1="777" x2="993.5" y2="780" stroke="#4a3f28" stroke-width="1" />
<text x="49.6" y="788" font-size="11.6" fill="#000" font-weight="normal" font-family="'Liberation Sans', Arial, sans-serif" text-anchor="middle" letter-spacing="1.25">Oct</text>
<text x="81.86" y="788" font-size="11.6" fill="#000" font-weight="normal" font-family="'Liberation Sans', Arial, sans-serif" text-anchor="middle" letter-spacing="1.25">Nov</text>
<text x="114.13" y="788" font-size="11.6" fill="#000" font-weight="normal" font-family="'Liberation Sans', Arial, sans-serif" text-anchor="middle" letter-spacing="1.25">Dec</text>
<text x="153.86" y="788" font-size="13.2" fill="#000" font-weight="bold" font-family="'Liberation Sans', Arial, sans-serif" text-anchor="middle" textLength="28.6" lengthAdjust="spacingAndGlyphs" stroke="#000" stroke-width="0.3">2015</text>
<text x="186.72" y="788" font-size="11.6" fill="#000" font-weight="normal" font-family="'Liberation Sans', Arial, sans-serif" text-anchor="middle" letter-spacing="1.25">Feb</text>
<text x="218.98" y="788" font-size="11.6" fill="#000" font-weight="normal" font-family="'Liberation Sans', Arial, sans-serif" text-anchor="middle" letter-spacing="1.25">Mar</text>
<text x="259.31" y="788" font-size="11.6" fill="#000" font-weight="normal" font-family="'Liberation Sans', Arial, sans-serif" text-anchor="middle" letter-spacing="1.25">Apr</text>
<text x="291.58" y="788" font-size="11.6" fill="#000" font-weight="normal" font-family="'Liberation Sans', Arial, sans-serif" text-anchor="middle" letter-spacing="1.25">May</text>
<text x="323.84" y="788" font-size="11.6" fill="#000" font-weight="normal" font-family="'Liberation Sans', Arial, sans-serif" text-anchor="middle" letter-spacing="1.25">Jun</text>
<text x="364.17" y="788" font-size="11.6" fill="#000" font-weight="normal" font-family="'Liberation Sans', Arial, sans-serif" text-anchor="middle" letter-spacing="1.25">Jul</text>
<text x="396.44" y="788" font-size="11.6" fill="#000" font-weight="normal" font-family="'Liberation Sans', Arial, sans-serif" text-anchor="middle" letter-spacing="1.25">Aug</text>
<text x="436.77" y="788" font-size="11.6" fill="#000" font-weight="normal" font-family="'Liberation Sans', Arial, sans-serif" text-anchor="middle" letter-spacing="1.25">Sep</text>
<text x="469.03" y="788" font-size="11.6" fill="#000" font-weight="normal" font-family="'Liberation Sans', Arial, sans-serif" text-anchor="middle" letter-spacing="1.25">Oct</text>
<text x="501.29" y="788" font-size="11.6" fill="#000" font-weight="normal" font-family="'Liberation Sans', Arial, sans-serif" text-anchor="middle" letter-spacing="1.25">Nov</text>
<text x="541.62" y="788" font-size="11.6" fill="#000" font-weight="normal" font-family="'Liberation Sans', Arial, sans-serif" text-anchor="middle" letter-spacing="1.25">Dec</text>
<text x="573.29" y="788" font-size="13.2" fill="#000" font-weight="bold" font-family="'Liberation Sans', Arial, sans-serif" text-anchor="middle" textLength="28.6" lengthAdjust="spacingAndGlyphs" stroke="#000" stroke-width="0.3">2016</text>
<text x="606.15" y="788" font-size="11.6" fill="#000" font-weight="normal" font-family="'Liberation Sans', Arial, sans-serif" text-anchor="middle" letter-spacing="1.25">Feb</text>
<text x="646.48" y="788" font-size="11.6" fill="#000" font-weight="normal" font-family="'Liberation Sans', Arial, sans-serif" text-anchor="middle" letter-spacing="1.25">Mar</text>
<text x="678.75" y="788" font-size="11.6" fill="#000" font-weight="normal" font-family="'Liberation Sans', Arial, sans-serif" text-anchor="middle" letter-spacing="1.25">Apr</text>
<text x="711.01" y="788" font-size="11.6" fill="#000" font-weight="normal" font-family="'Liberation Sans', Arial, sans-serif" text-anchor="middle" letter-spacing="1.25">May</text>
<text x="751.34" y="788" font-size="11.6" fill="#000" font-weight="normal" font-family="'Liberation Sans', Arial, sans-serif" text-anchor="middle" letter-spacing="1.25">Jun</text>
<text x="783.6" y="788" font-size="11.6" fill="#000" font-weight="normal" font-family="'Liberation Sans', Arial, sans-serif" text-anchor="middle" letter-spacing="1.25">Jul</text>
<text x="815.87" y="788" font-size="11.6" fill="#000" font-weight="normal" font-family="'Liberation Sans', Arial, sans-serif" text-anchor="middle" letter-spacing="1.25">Aug</text>
<text x="856.2" y="788" font-size="11.6" fill="#000" font-weight="normal" font-family="'Liberation Sans', Arial, sans-serif" text-anchor="middle" letter-spacing="1.25">Sep</text>
<text x="888.46" y="788" font-size="11.6" fill="#000" font-weight="normal" font-family="'Liberation Sans', Arial, sans-serif" text-anchor="middle" letter-spacing="1.25">Oct</text>
<text x="928.79" y="788" font-size="11.6" fill="#000" font-weight="normal" font-family="'Liberation Sans', Arial, sans-serif" text-anchor="middle" letter-spacing="1.25">Nov</text>
<text x="961.06" y="788" font-size="11.6" fill="#000" font-weight="normal" font-family="'Liberation Sans', Arial, sans-serif" text-anchor="middle" letter-spacing="1.25">Dec</text>
<text x="992.72" y="788" font-size="13.2" fill="#000" font-weight="bold" font-family="'Liberation Sans', Arial, sans-serif" text-anchor="middle" textLength="28.6" lengthAdjust="spacingAndGlyphs" stroke="#000" stroke-width="0.3">2017</text>
<line x1="1002" y1="56.2" x2="1006" y2="56.2" stroke="#555" stroke-width="1" />
<text x="1006" y="60.5" font-size="12" fill="#000" font-weight="normal" font-family="'Liberation Sans', Arial, sans-serif" text-anchor="start" letter-spacing="0.3">90</text>
<line x1="1002" y1="74.2" x2="1006" y2="74.2" stroke="#555" stroke-width="1" />
<text x="1006" y="78.5" font-size="12" fill="#000" font-weight="normal" font-family="'Liberation Sans', Arial, sans-serif" text-anchor="start" letter-spacing="0.3">70</text>
<line x1="1002" y1="91.5" x2="1006" y2="91.5" stroke="#555" stroke-width="1" />
<text x="1006" y="95.8" font-size="12" fill="#000" font-weight="normal" font-family="'Liberation Sans', Arial, sans-serif" text-anchor="start" letter-spacing="0.3">50</text>
<line x1="1002" y1="108.8" x2="1006" y2="108.8" stroke="#555" stroke-width="1" />
<text x="1006" y="113.1" font-size="12" fill="#000" font-weight="normal" font-family="'Liberation Sans', Arial, sans-serif" text-anchor="start" letter-spacing="0.3">30</text>
<line x1="1002" y1="126.2" x2="1006" y2="126.2" stroke="#555" stroke-width="1" />
<text x="1006" y="130.5" font-size="12" fill="#000" font-weight="normal" font-family="'Liberation Sans', Arial, sans-serif" text-anchor="start" letter-spacing="0.3">10</text>
<line x1="1002" y1="154" x2="1006" y2="154" stroke="#555" stroke-width="1" />
<text x="1007" y="158.3" font-size="12" fill="#000" font-weight="normal" font-family="'Liberation Sans', Arial, sans-serif" text-anchor="start" letter-spacing="0.3">1375</text>
<line x1="1002" y1="175.3" x2="1006" y2="175.3" stroke="#555" stroke-width="1" />
<text x="1007" y="179.6" font-size="12" fill="#000" font-weight="normal" font-family="'Liberation Sans', Arial, sans-serif" text-anchor="start" letter-spacing="0.3">1350</text>
<line x1="1002" y1="196.6" x2="1006" y2="196.6" stroke="#555" stroke-width="1" />
<text x="1007" y="200.9" font-size="12" fill="#000" font-weight="normal" font-family="'Liberation Sans', Arial, sans-serif" text-anchor="start" letter-spacing="0.3">1325</text>
<line x1="1002" y1="217.9" x2="1006" y2="217.9" stroke="#555" stroke-width="1" />
<text x="1007" y="222.2" font-size="12" fill="#000" font-weight="normal" font-family="'Liberation Sans', Arial, sans-serif" text-anchor="start" letter-spacing="0.3">1300</text>
<line x1="1002" y1="239.2" x2="1006" y2="239.2" stroke="#555" stroke-width="1" />
<text x="1007" y="243.5" font-size="12" fill="#000" font-weight="normal" font-family="'Liberation Sans', Arial, sans-serif" text-anchor="start" letter-spacing="0.3">1275</text>
<line x1="1002" y1="260.5" x2="1006" y2="260.5" stroke="#555" stroke-width="1" />
<text x="1007" y="264.8" font-size="12" fill="#000" font-weight="normal" font-family="'Liberation Sans', Arial, sans-serif" text-anchor="start" letter-spacing="0.3">1250</text>
<line x1="1002" y1="281.8" x2="1006" y2="281.8" stroke="#555" stroke-width="1" />
<text x="1007" y="286.1" font-size="12" fill="#000" font-weight="normal" font-family="'Liberation Sans', Arial, sans-serif" text-anchor="start" letter-spacing="0.3">1225</text>
<line x1="1002" y1="303.1" x2="1006" y2="303.1" stroke="#555" stroke-width="1" />
<text x="1007" y="307.4" font-size="12" fill="#000" font-weight="normal" font-family="'Liberation Sans', Arial, sans-serif" text-anchor="start" letter-spacing="0.3">1200</text>
<line x1="1002" y1="324.4" x2="1006" y2="324.4" stroke="#555" stroke-width="1" />
<text x="1007" y="328.7" font-size="12" fill="#000" font-weight="normal" font-family="'Liberation Sans', Arial, sans-serif" text-anchor="start" letter-spacing="0.3">1175</text>
<line x1="1002" y1="345.7" x2="1006" y2="345.7" stroke="#555" stroke-width="1" />
<text x="1007" y="350" font-size="12" fill="#000" font-weight="normal" font-family="'Liberation Sans', Arial, sans-serif" text-anchor="start" letter-spacing="0.3">1150</text>
<line x1="1002" y1="367" x2="1006" y2="367" stroke="#555" stroke-width="1" />
<text x="1007" y="371.3" font-size="12" fill="#000" font-weight="normal" font-family="'Liberation Sans', Arial, sans-serif" text-anchor="start" letter-spacing="0.3">1125</text>
<line x1="1002" y1="388.3" x2="1006" y2="388.3" stroke="#555" stroke-width="1" />
<text x="1007" y="392.6" font-size="12" fill="#000" font-weight="normal" font-family="'Liberation Sans', Arial, sans-serif" text-anchor="start" letter-spacing="0.3">1100</text>
<line x1="1002" y1="409.6" x2="1006" y2="409.6" stroke="#555" stroke-width="1" />
<text x="1007" y="413.9" font-size="12" fill="#000" font-weight="normal" font-family="'Liberation Sans', Arial, sans-serif" text-anchor="start" letter-spacing="0.3">1075</text>
<line x1="1002" y1="430.9" x2="1006" y2="430.9" stroke="#555" stroke-width="1" />
<text x="1007" y="435.2" font-size="12" fill="#000" font-weight="normal" font-family="'Liberation Sans', Arial, sans-serif" text-anchor="start" letter-spacing="0.3">1050</text>
<line x1="1002" y1="464.8" x2="1006" y2="464.8" stroke="#555" stroke-width="1" />
<text x="1007" y="469.1" font-size="12" fill="#000" font-weight="normal" font-family="'Liberation Sans', Arial, sans-serif" text-anchor="start" letter-spacing="0.3">1.25M</text>
<line x1="1002" y1="484" x2="1006" y2="484" stroke="#555" stroke-width="1" />
<text x="1007" y="488.3" font-size="12" fill="#000" font-weight="normal" font-family="'Liberation Sans', Arial, sans-serif" text-anchor="start" letter-spacing="0.3">1.00M</text>
<line x1="1002" y1="504" x2="1006" y2="504" stroke="#555" stroke-width="1" />
<text x="1011" y="508.3" font-size="12" fill="#000" font-weight="normal" font-family="'Liberation Sans', Arial, sans-serif" text-anchor="start" letter-spacing="0.3">750K</text>
<line x1="1002" y1="524" x2="1006" y2="524" stroke="#555" stroke-width="1" />
<text x="1011" y="528.3" font-size="12" fill="#000" font-weight="normal" font-family="'Liberation Sans', Arial, sans-serif" text-anchor="start" letter-spacing="0.3">500K</text>
<line x1="1002" y1="543.8" x2="1006" y2="543.8" stroke="#555" stroke-width="1" />
<text x="1011" y="548.1" font-size="12" fill="#000" font-weight="normal" font-family="'Liberation Sans', Arial, sans-serif" text-anchor="start" letter-spacing="0.3">250K</text>
<line x1="1002" y1="579" x2="1006" y2="579" stroke="#555" stroke-width="1" />
<text x="1010" y="583.3" font-size="12" fill="#000" font-weight="normal" font-family="'Liberation Sans', Arial, sans-serif" text-anchor="start" letter-spacing="0.3">40</text>
<line x1="1002" y1="603" x2="1006" y2="603" stroke="#555" stroke-width="1" />
<text x="1010" y="607.3" font-size="12" fill="#000" font-weight="normal" font-family="'Liberation Sans', Arial, sans-serif" text-anchor="start" letter-spacing="0.3">20</text>
<line x1="1002" y1="651" x2="1006" y2="651" stroke="#555" stroke-width="1" />
<text x="1006" y="655.3" font-size="12" fill="#000" font-weight="normal" font-family="'Liberation Sans', Arial, sans-serif" text-anchor="start" letter-spacing="0.3">-20</text>
<line x1="1002" y1="697" x2="1006" y2="697" stroke="#555" stroke-width="1" />
<text x="1006.5" y="701.3" font-size="12" fill="#000" font-weight="normal" font-family="'Liberation Sans', Arial, sans-serif" text-anchor="start" letter-spacing="0.3">80</text>
<line x1="1002" y1="722.8" x2="1006" y2="722.8" stroke="#555" stroke-width="1" />
<text x="1006.5" y="727.1" font-size="12" fill="#000" font-weight="normal" font-family="'Liberation Sans', Arial, sans-serif" text-anchor="start" letter-spacing="0.3">50</text>
<line x1="1002" y1="749.2" x2="1006" y2="749.2" stroke="#555" stroke-width="1" />
<text x="1006.5" y="753.5" font-size="12" fill="#000" font-weight="normal" font-family="'Liberation Sans', Arial, sans-serif" text-anchor="start" letter-spacing="0.3">20</text>
<g clip-path="url(#tan)">
<polygon points="998.4,81.2 1002.6,75.8 1039.8,75.8 1039.8,86.6 1002.6,86.6" fill="#fff" stroke="#000" stroke-width="1.2"/>
<text x="1005" y="85.6" font-size="12" fill="#000" font-weight="normal" font-family="'Liberation Sans', Arial, sans-serif" text-anchor="start" textLength="32" lengthAdjust="spacing" stroke="#000" stroke-width="0.45">62.30</text>
<polygon points="998.4,303.1 1002.6,297.1 1055.6,297.1 1055.6,309.1 1002.6,309.1" fill="#fff" stroke="#005a00" stroke-width="1.2"/>
<text x="1005" y="307.5" font-size="12" fill="#000" font-weight="normal" font-family="'Liberation Sans', Arial, sans-serif" text-anchor="start" textLength="47" lengthAdjust="spacing" stroke="#000" stroke-width="0.45">1200.71</text>
<polygon points="998.4,220.8 1002.6,215.1 1055.6,215.1 1055.6,226.5 1002.6,226.5" fill="#fff" stroke="#d00000" stroke-width="1.2"/>
<text x="1005" y="225.2" font-size="12" fill="#000" font-weight="normal" font-family="'Liberation Sans', Arial, sans-serif" text-anchor="start" textLength="47" lengthAdjust="spacing" stroke="#000" stroke-width="0.45">1297.42</text>
<polygon points="998.4,191.6 1002.6,185.8 1055.6,185.8 1055.6,197.4 1002.6,197.4" fill="#fff" stroke="#10107e" stroke-width="1.2"/>
<text x="1005" y="196" font-size="12" fill="#000" font-weight="normal" font-family="'Liberation Sans', Arial, sans-serif" text-anchor="start" textLength="47" lengthAdjust="spacing" stroke="#000" stroke-width="0.45">1331.59</text>
<polygon points="998.4,182.4 1002.6,176.5 1055.6,176.5 1055.6,188.3 1002.6,188.3" fill="#fff" stroke="#000" stroke-width="1.2"/>
<text x="1005" y="186.8" font-size="12" fill="#000" font-weight="bold" font-family="'Liberation Sans', Arial, sans-serif" text-anchor="start" textLength="47.5" lengthAdjust="spacing">1343.20</text>
<polygon points="998.4,500.8 1002.6,495.6 1065,495.6 1065,506 1002.6,506" fill="#fff" stroke="#000" stroke-width="1.2"/>
<text x="1005" y="505.2" font-size="12" fill="#000" font-weight="normal" font-family="'Liberation Sans', Arial, sans-serif" text-anchor="start" textLength="60" lengthAdjust="spacing">806799.00</text>
<polygon points="998.4,579.2 1002.6,574 1047.6,574 1047.6,584.4 1002.6,584.4" fill="#fff" stroke="#c0284f" stroke-width="1.2"/>
<polygon points="998.4,577 1002.6,571.9 1047.6,571.9 1047.6,582.1 1002.6,582.1" fill="#fff" stroke="#000" stroke-width="1.2"/>
<text x="1005" y="581.4" font-size="12" fill="#000" font-weight="normal" font-family="'Liberation Sans', Arial, sans-serif" text-anchor="start" textLength="40" lengthAdjust="spacing">41.856</text>
<polygon points="998.4,624 1002.6,618.9 1039,618.9 1039,629.1 1002.6,629.1" fill="#fff" stroke="#000" stroke-width="1.2"/>
<text x="1005" y="628.4" font-size="12" fill="#000" font-weight="normal" font-family="'Liberation Sans', Arial, sans-serif" text-anchor="start" textLength="32" lengthAdjust="spacing">1.816</text>
<polygon points="998.4,697 1002.6,691.7 1040.5,691.7 1040.5,702.3 1002.6,702.3" fill="#fff" stroke="#c0284f" stroke-width="1.2"/>
<polygon points="998.4,694.1 1002.6,688.85 1040.5,688.85 1040.5,699.35 1002.6,699.35" fill="#fff" stroke="#000" stroke-width="1.2"/>
<text x="1005" y="698.5" font-size="12" fill="#000" font-weight="normal" font-family="'Liberation Sans', Arial, sans-serif" text-anchor="start" textLength="32.5" lengthAdjust="spacing">83.52</text>
</g>
<rect x="23" y="40" width="118" height="15" fill="#fbfcfe" opacity="0.92"/>
<path d="M25.3 52 L25.3 49 L28 43.6 L30.5 41.6 L30.8 44.5 L32.5 49 L33.6 46.5 L35.5 43.2 L35.5 52 Z" fill="#dccabb" stroke="#1a1a1a" stroke-width="1.1" stroke-linejoin="round"/>
<text x="40.8" y="52" font-size="11.8" fill="#000" font-weight="normal" font-family="'DejaVu Sans', 'Liberation Sans', sans-serif" text-anchor="start" textLength="98" lengthAdjust="spacing">RSI(14) 62.30</text>
<rect x="23" y="145" width="196" height="14" fill="#fbfcfe" opacity="0.92"/>
<rect x="23" y="159" width="104" height="41" fill="#fbfcfe" opacity="0.92"/>
<g fill="#111"><rect x="26.2" y="147" width="1" height="9.6"/><rect x="25.4" y="149" width="2.4" height="5.4"/><rect x="29.8" y="150.5" width="1" height="6.5"/><rect x="28.4" y="151.5" width="3.6" height="4.4"/><rect x="33.8" y="147" width="1" height="9.6"/><rect x="32.8" y="148.6" width="3" height="6.4" fill="#fff" stroke="#111" stroke-width="1"/></g>
<text x="41" y="156.8" font-size="11.8" fill="#000" font-weight="normal" font-family="'DejaVu Sans', 'Liberation Sans', sans-serif" text-anchor="start" textLength="176" lengthAdjust="spacing">$GOLD (Weekly) 1343.20</text>
<line x1="25" y1="166.4" x2="35.5" y2="166.4" stroke="#000080" stroke-width="2" />
<text x="38" y="170.6" font-size="12" fill="#000080" font-weight="normal" font-family="'Liberation Sans', Arial, sans-serif" text-anchor="start" >MA(10) 1331.59</text>
<line x1="25" y1="180" x2="35.5" y2="180" stroke="#c80000" stroke-width="2" />
<text x="38" y="184.2" font-size="12" fill="#c80000" font-weight="normal" font-family="'Liberation Sans', Arial, sans-serif" text-anchor="start" >MA(200) 1297.42</text>
<line x1="25" y1="193.6" x2="35.5" y2="193.6" stroke="#006000" stroke-width="2" />
<text x="38" y="197.8" font-size="12" fill="#006000" font-weight="normal" font-family="'Liberation Sans', Arial, sans-serif" text-anchor="start" >MA(50) 1200.71</text>
<rect x="23" y="462" width="134" height="15" fill="#fbfcfe" opacity="0.92"/>
<g fill="#3fa03f" stroke="#006400" stroke-width="1"><rect x="25.5" y="468.5" width="2.5" height="6"/><rect x="28.5" y="464" width="3.2" height="10.5"/><rect x="32.2" y="466.7" width="3.3" height="7.8"/></g>
<text x="40.2" y="474.7" font-size="11.8" fill="#000" font-weight="normal" font-family="'DejaVu Sans', 'Liberation Sans', sans-serif" text-anchor="start" textLength="113" lengthAdjust="spacing">Volume 806,799</text>
<rect x="23" y="567" width="288" height="15" fill="#fbfcfe" opacity="0.92"/>
<line x1="25" y1="575.2" x2="35.5" y2="575.2" stroke="#000" stroke-width="2.4" />
<text x="40.5" y="580" font-size="11.6" font-family="'DejaVu Sans', 'Liberation Sans', sans-serif" textLength="268" lengthAdjust="spacing"><tspan fill="#000">MACD(12,26,9) 41.856, </tspan><tspan fill="#8a0030">40.040</tspan><tspan fill="#b9a27e">, 1.816</tspan></text>
<rect x="23" y="672" width="294" height="15" fill="#fbfcfe" opacity="0.92"/>
<line x1="25" y1="680.2" x2="35.5" y2="680.2" stroke="#000" stroke-width="2.4" />
<text x="40.5" y="685" font-size="11.6" font-family="'DejaVu Sans', 'Liberation Sans', sans-serif" textLength="273" lengthAdjust="spacing"><tspan fill="#000">Full STO %K(14,3) %D(3) 83.52, </tspan><tspan fill="#8a0030">80.60</tspan></text>
<text x="338.5" y="129.6" font-size="18" fill="#0a0ad2" font-weight="bold" font-family="'Liberation Sans', Arial, sans-serif" text-anchor="start" textLength="54" lengthAdjust="spacingAndGlyphs">GOLD</text>
<text x="542.5" y="143" font-size="18.4" fill="#1668f0" font-weight="bold" font-family="'Liberation Sans', Arial, sans-serif" text-anchor="start" textLength="128" lengthAdjust="spacingAndGlyphs">Strong 6 week</text>
<text x="542.5" y="165" font-size="18.4" fill="#1668f0" font-weight="bold" font-family="'Liberation Sans', Arial, sans-serif" text-anchor="start" textLength="178" lengthAdjust="spacingAndGlyphs">move consolidating</text>
<line x1="694" y1="168.4" x2="755.25" y2="168.4" stroke="#1668f0" stroke-width="2.4" />
<polygon points="766.5,168.4 751.5,175.4 754.2,168.4 751.5,161.4" fill="#1668f0"/>
<line x1="694" y1="169" x2="736.07" y2="196.37" stroke="#1668f0" stroke-width="2.4" />
<polygon points="745.5,202.5 729.11,200.19 735.19,195.79 736.74,188.45" fill="#1668f0"/>
<line x1="694" y1="170" x2="734.12" y2="228.24" stroke="#1668f0" stroke-width="2.4" />
<polygon points="740.5,237.5 726.23,229.12 733.52,227.37 737.75,221.18" fill="#1668f0"/>
<text x="21.8" y="20.5" font-size="17.2" fill="#000" font-weight="bold" font-family="'Liberation Sans', Arial, sans-serif" text-anchor="start" textLength="53.2" lengthAdjust="spacingAndGlyphs">$GOLD</text>
<text x="80.5" y="20" font-size="13.2" fill="#000" font-weight="normal" font-family="'Liberation Sans', Arial, sans-serif" text-anchor="start" textLength="201" lengthAdjust="spacing">Gold - Continuous Contract (EOD)</text>
<text x="289.7" y="20" font-size="11.2" fill="#000" font-weight="normal" font-family="'Liberation Sans', Arial, sans-serif" text-anchor="start" textLength="25.5" lengthAdjust="spacing">CME</text>
<text x="21.8" y="35.5" font-size="11.8" fill="#000" font-weight="normal" font-family="'Liberation Sans', Arial, sans-serif" text-anchor="start" textLength="75" lengthAdjust="spacing">12-Aug-2016</text>
<text x="889.9" y="19.8" font-size="13" fill="#5f553f" font-weight="normal" font-family="'Liberation Sans', Arial, sans-serif" text-anchor="start" textLength="110.5" lengthAdjust="spacingAndGlyphs" stroke="#5f553f" stroke-width="0.45">© StockCharts.com</text>
<text x="391" y="35.4" font-size="13" fill="#000" font-weight="bold" font-family="'Liberation Sans', Arial, sans-serif" text-anchor="start" textLength="35.4" lengthAdjust="spacingAndGlyphs" stroke="#000" stroke-width="0.35">Open</text>
<text x="431.5" y="35.4" font-size="13" fill="#000" font-weight="normal" font-family="'Liberation Sans', Arial, sans-serif" text-anchor="start" textLength="46.8" lengthAdjust="spacingAndGlyphs">1341.20</text>
<text x="486.4" y="35.4" font-size="13" fill="#000" font-weight="bold" font-family="'Liberation Sans', Arial, sans-serif" text-anchor="start" textLength="30" lengthAdjust="spacingAndGlyphs" stroke="#000" stroke-width="0.35">High</text>
<text x="521.4" y="35.4" font-size="13" fill="#000" font-weight="normal" font-family="'Liberation Sans', Arial, sans-serif" text-anchor="start" textLength="47.4" lengthAdjust="spacingAndGlyphs">1363.60</text>
<text x="576.3" y="35.4" font-size="13" fill="#000" font-weight="bold" font-family="'Liberation Sans', Arial, sans-serif" text-anchor="start" textLength="29" lengthAdjust="spacingAndGlyphs" stroke="#000" stroke-width="0.35">Low</text>
<text x="611.3" y="35.4" font-size="13" fill="#000" font-weight="normal" font-family="'Liberation Sans', Arial, sans-serif" text-anchor="start" textLength="47.4" lengthAdjust="spacingAndGlyphs">1335.30</text>
<text x="666.7" y="35.4" font-size="13" fill="#000" font-weight="bold" font-family="'Liberation Sans', Arial, sans-serif" text-anchor="start" textLength="38.8" lengthAdjust="spacingAndGlyphs" stroke="#000" stroke-width="0.35">Close</text>
<text x="711.2" y="35.4" font-size="13" fill="#000" font-weight="normal" font-family="'Liberation Sans', Arial, sans-serif" text-anchor="start" textLength="47.2" lengthAdjust="spacingAndGlyphs">1343.20</text>
<text x="767.2" y="35.4" font-size="13" fill="#000" font-weight="bold" font-family="'Liberation Sans', Arial, sans-serif" text-anchor="start" textLength="51.8" lengthAdjust="spacingAndGlyphs" stroke="#000" stroke-width="0.35">Volume</text>
<text x="825" y="35.4" font-size="13" fill="#000" font-weight="normal" font-family="'Liberation Sans', Arial, sans-serif" text-anchor="start" textLength="42.3" lengthAdjust="spacingAndGlyphs">806.8K</text>
<text x="875" y="35.4" font-size="13" fill="#000" font-weight="bold" font-family="'Liberation Sans', Arial, sans-serif" text-anchor="start" textLength="26" lengthAdjust="spacingAndGlyphs" stroke="#000" stroke-width="0.35">Chg</text>
<text x="906" y="35.4" font-size="13" fill="#000" font-weight="normal" font-family="'Liberation Sans', Arial, sans-serif" text-anchor="start" textLength="81.6" lengthAdjust="spacingAndGlyphs">-1.20 (-0.09%)</text>
<polygon points="992,29.5 1000.4,29.5 996.2,35" fill="#a00000"/>
</svg>
</body></html>
